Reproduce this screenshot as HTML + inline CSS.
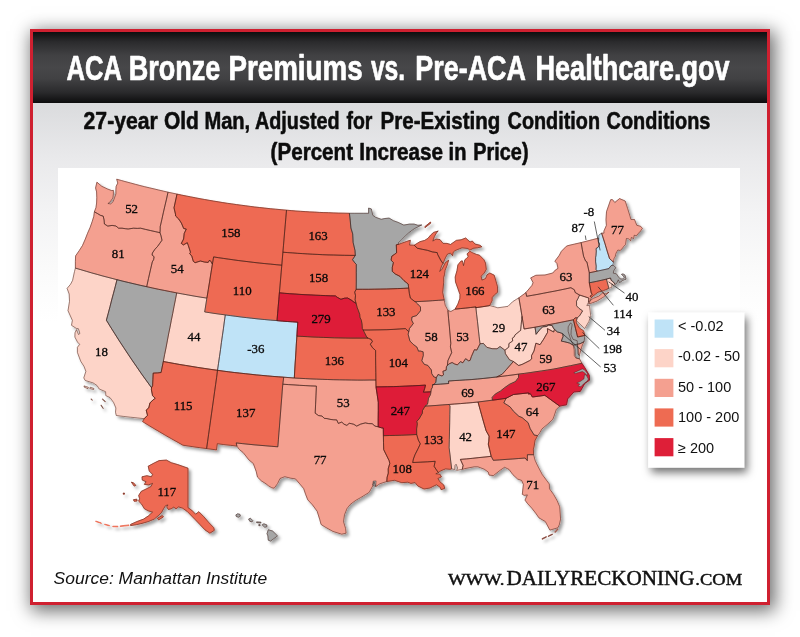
<!DOCTYPE html>
<html lang="en">
<head>
<meta charset="utf-8">
<title>ACA Bronze Premiums vs. Pre-ACA Healthcare.gov</title>
<style>
html,body{margin:0;padding:0;background:#fff;}
body{width:800px;height:637px;position:relative;overflow:hidden;font-family:"Liberation Sans",sans-serif;}
#card{position:absolute;left:30px;top:29px;width:734px;height:570px;border:3px solid #cf2030;
  background:linear-gradient(#dbdcde 0px,#dbdcde 74px,#e9e9eb 125px,#f3f3f4 180px,#fafafa 235px,#ffffff 290px);
  box-shadow:3px 4px 17px 2px rgba(0,0,0,.58);}
#hdr{position:absolute;left:0;top:0;width:734px;height:71px;
  background:linear-gradient(#0e0e0f 0%,#2b2b2d 14%,#414143 33%,#474749 50%,#414143 66%,#2a2a2c 85%,#0c0c0d 100%);}
#mapbg{position:absolute;left:25px;top:136px;width:682px;height:380px;background:#fff;}
svg{position:absolute;left:0;top:0;}
</style>
</head>
<body>
<div id="card"><div id="hdr"></div><div id="mapbg"></div></div>

<svg width="800" height="637" viewBox="0 0 800 637">
<defs><filter id="ds" x="-5%" y="-5%" width="112%" height="112%"><feDropShadow dx="2.5" dy="2.5" stdDeviation="1.7" flood-color="#000" flood-opacity=".38"/></filter><filter id="ls" x="-20%" y="-20%" width="150%" height="150%"><feDropShadow dx="3" dy="5" stdDeviation="4.5" flood-color="#000" flood-opacity=".55"/></filter></defs>
<g filter="url(#ds)">
<g stroke-linejoin="round">
<path class="st WA" fill="#f4a090" stroke="#f4a090" stroke-width="0.8" d="M94.4,211.8L96.0,207.5L96.6,203.0L96.8,197.7L96.6,191.9L95.6,188.0L96.9,182.2L101.8,186.3L107.3,188.9L111.7,190.6L113.4,190.4L113.4,193.9L112.9,198.1L109.8,202.2L107.9,203.5L110.7,203.9L113.1,201.7L114.5,197.8L115.9,193.9L115.9,189.6L116.2,186.2L117.8,183.1L116.7,179.2L121.3,180.5L126.0,181.8L130.6,183.0L135.3,184.3L139.9,185.5L144.6,186.7L149.3,187.8L154.0,188.9L158.6,190.0L163.3,191.1L168.0,192.2L166.5,199.1L164.9,205.9L163.3,212.8L161.8,219.7L160.2,226.7L160.2,229.2L160.0,232.7L155.2,231.6L150.3,230.5L145.5,229.4L140.6,228.2L137.4,228.4L133.4,228.2L128.2,229.0L125.3,228.7L122.1,228.2L118.6,228.2L115.9,226.0L112.1,225.4L107.8,226.1L104.4,224.0L104.1,220.0L103.2,216.1L100.4,215.3L97.4,213.5Z"/>
<path class="st OR" fill="#f4a090" stroke="#f4a090" stroke-width="0.8" d="M75.4,268.1L75.4,261.6L75.6,255.9L79.4,250.4L82.5,245.5L85.3,239.1L87.6,233.2L90.1,227.5L92.2,221.6L93.8,216.3L94.4,211.8L97.4,213.5L100.4,215.3L103.2,216.1L104.1,220.0L104.4,224.0L107.8,226.1L112.1,225.4L115.9,226.0L118.6,228.2L122.1,228.2L125.3,228.7L128.2,229.0L133.4,228.2L137.4,228.4L140.6,228.2L145.5,229.4L150.3,230.5L155.2,231.6L160.0,232.7L161.0,235.8L162.0,240.2L159.8,243.3L157.6,246.4L154.9,249.3L152.4,253.0L152.1,255.1L154.1,256.7L153.6,259.7L152.3,261.9L150.4,270.1L148.5,278.4L146.7,286.7L140.7,285.4L134.8,284.0L128.8,282.6L122.9,281.2L117.0,279.7L112.1,278.4L107.1,277.1L102.1,275.8L97.2,274.4L91.7,272.9L86.3,271.3L80.9,269.7Z"/>
<path class="st CA" fill="#fdd4c8" stroke="#fdd4c8" stroke-width="0.8" d="M116.3,415.5L115.5,412.2L115.9,408.0L113.6,402.5L110.0,397.6L105.8,395.6L105.6,391.7L99.2,389.0L97.1,385.6L93.1,382.9L85.2,380.5L83.8,377.9L85.9,371.3L84.0,366.4L80.7,361.2L77.4,352.4L77.4,347.3L79.7,344.3L77.5,342.1L74.9,337.1L75.0,332.8L76.5,329.6L78.5,334.5L79.9,333.5L78.4,328.7L76.3,328.4L71.5,325.3L72.4,320.4L68.0,310.7L69.5,301.4L69.2,294.0L67.1,288.4L70.6,284.2L72.6,280.4L74.5,271.5L75.4,268.1L80.9,269.7L86.3,271.3L91.7,272.9L97.2,274.4L102.1,275.8L107.1,277.1L112.1,278.4L117.0,279.7L115.3,286.4L113.5,293.2L111.7,299.9L110.0,306.7L108.2,313.5L106.4,320.2L110.6,327.1L114.9,333.9L119.2,340.7L123.6,347.4L128.1,354.2L132.6,360.9L137.3,367.7L141.9,374.4L146.7,381.0L151.5,387.7L151.4,389.8L152.6,395.7L155.2,398.3L152.9,400.0L149.9,403.0L148.8,407.8L146.2,410.1L147.5,415.3L144.2,418.7L137.2,417.9L130.3,417.2L123.3,416.4Z"/>
<path class="st NV" fill="#a6a6a6" stroke="#a6a6a6" stroke-width="0.8" d="M117.0,279.7L122.9,281.2L128.8,282.6L134.8,284.0L140.7,285.4L146.7,286.7L152.6,288.0L158.6,289.3L164.7,290.5L170.7,291.7L176.7,292.9L175.4,299.7L174.0,306.6L172.7,313.5L171.3,320.3L170.0,327.2L168.6,334.0L167.3,340.9L166.0,347.8L164.6,354.6L163.3,361.5L161.1,372.5L157.6,372.9L153.2,373.1L152.9,379.4L152.6,385.8L151.5,387.7L146.7,381.0L141.9,374.4L137.3,367.7L132.6,360.9L128.1,354.2L123.6,347.4L119.2,340.7L114.9,333.9L110.6,327.1L106.4,320.2L108.2,313.5L110.0,306.7L111.7,299.9L113.5,293.2L115.3,286.4Z"/>
<path class="st ID" fill="#f4a090" stroke="#f4a090" stroke-width="0.8" d="M168.0,192.2L177.0,194.1L175.5,201.0L174.0,207.8L175.5,214.2L175.6,216.0L178.8,219.1L181.4,223.1L183.7,228.5L186.3,229.0L184.2,233.5L183.6,239.0L181.3,243.4L183.4,244.9L187.3,242.7L188.3,245.5L190.5,252.2L189.7,253.6L191.8,256.1L193.3,261.3L195.1,262.7L200.4,261.0L204.7,262.1L208.2,262.4L209.6,260.1L210.6,261.1L212.4,264.2L211.0,272.7L209.7,281.1L208.3,289.6L206.9,298.1L200.9,297.2L194.8,296.2L188.8,295.1L182.7,294.0L176.7,292.9L170.7,291.7L164.7,290.5L158.6,289.3L152.6,288.0L146.7,286.7L148.5,278.4L150.4,270.1L152.3,261.9L153.6,259.7L154.1,256.7L152.1,255.1L152.4,253.0L154.9,249.3L157.6,246.4L159.8,243.3L162.0,240.2L161.0,235.8L160.0,232.7L160.2,229.2L160.2,226.7L161.8,219.7L163.3,212.8L164.9,205.9L166.5,199.1Z"/>
<path class="st MT" fill="#ee6b52" stroke="#ee6b52" stroke-width="0.8" d="M177.0,194.1L181.6,195.1L186.2,196.0L190.8,196.9L195.4,197.8L200.0,198.7L204.6,199.5L209.1,200.3L213.7,201.1L218.2,201.8L222.8,202.6L227.4,203.3L231.9,203.9L236.5,204.6L241.1,205.2L245.7,205.8L250.2,206.4L254.8,207.0L259.4,207.5L264.8,208.1L270.2,208.7L275.7,209.2L281.1,209.7L286.5,210.2L285.9,217.2L285.3,224.2L284.7,231.1L284.1,238.1L283.5,245.2L282.9,252.2L281.8,265.2L276.2,264.7L270.5,264.1L264.9,263.6L259.3,263.0L253.7,262.4L248.1,261.7L243.1,261.1L238.2,260.5L233.3,259.8L228.3,259.1L223.4,258.4L218.5,257.7L213.6,256.9L212.4,264.2L210.6,261.1L209.6,260.1L208.2,262.4L204.7,262.1L200.4,261.0L195.1,262.7L193.3,261.3L191.8,256.1L189.7,253.6L190.5,252.2L188.3,245.5L187.3,242.7L183.4,244.9L181.3,243.4L183.6,239.0L184.2,233.5L186.3,229.0L183.7,228.5L181.4,223.1L178.8,219.1L175.6,216.0L175.5,214.2L174.0,207.8L175.5,201.0Z"/>
<path class="st WY" fill="#ee6b52" stroke="#ee6b52" stroke-width="0.8" d="M212.4,264.2L213.6,256.9L218.5,257.7L223.4,258.4L228.3,259.1L233.3,259.8L238.2,260.5L243.1,261.1L248.1,261.7L253.7,262.4L259.3,263.0L264.9,263.6L270.5,264.1L276.2,264.7L281.8,265.2L281.2,272.1L280.6,279.0L280.0,285.9L279.4,292.8L278.8,299.8L278.2,306.7L277.6,313.7L277.0,320.6L270.7,320.1L264.3,319.5L258.0,318.9L251.6,318.2L246.4,317.6L241.1,317.0L235.8,316.3L230.5,315.6L225.3,314.9L220.1,314.2L215.0,313.5L209.8,312.7L204.7,311.9L205.8,305.0L206.9,298.1L208.3,289.6L209.7,281.1L211.0,272.7Z"/>
<path class="st UT" fill="#fdd4c8" stroke="#fdd4c8" stroke-width="0.8" d="M176.7,292.9L182.7,294.0L188.8,295.1L194.8,296.2L200.9,297.2L206.9,298.1L205.8,305.0L204.7,311.9L209.8,312.7L215.0,313.5L220.1,314.2L225.3,314.9L224.3,321.9L223.4,328.8L222.4,335.7L221.4,342.6L220.5,349.6L219.5,356.5L218.5,363.4L217.5,370.3L210.9,369.4L204.2,368.4L197.5,367.4L190.9,366.3L185.4,365.4L179.8,364.5L174.3,363.5L168.8,362.5L163.3,361.5L164.6,354.6L166.0,347.8L167.3,340.9L168.6,334.0L170.0,327.2L171.3,320.3L172.7,313.5L174.0,306.6L175.4,299.7Z"/>
<path class="st CO" fill="#bfe3f7" stroke="#bfe3f7" stroke-width="0.8" d="M225.3,314.9L230.5,315.6L235.8,316.3L241.1,317.0L246.4,317.6L251.6,318.2L258.0,318.9L264.3,319.5L270.7,320.1L277.0,320.6L282.2,321.1L287.4,321.5L292.6,321.8L297.8,322.2L297.3,329.1L296.9,336.1L296.4,343.1L296.0,350.1L295.6,357.0L295.1,364.0L294.7,371.0L294.3,378.0L283.7,377.2L278.3,376.8L272.8,376.4L267.3,375.9L261.8,375.4L256.3,374.9L250.9,374.3L245.3,373.7L239.7,373.1L234.2,372.5L228.6,371.8L223.1,371.1L217.5,370.3L218.5,363.4L219.5,356.5L220.5,349.6L221.4,342.6L222.4,335.7L223.4,328.8L224.3,321.9Z"/>
<path class="st AZ" fill="#ee6b52" stroke="#ee6b52" stroke-width="0.8" d="M163.3,361.5L168.8,362.5L174.3,363.5L179.8,364.5L185.4,365.4L190.9,366.3L197.5,367.4L204.2,368.4L210.9,369.4L217.5,370.3L216.6,377.5L215.6,384.6L214.6,391.7L213.6,398.9L212.6,406.0L211.6,413.1L210.6,420.2L209.6,427.3L208.6,434.4L207.6,441.5L206.6,448.6L200.7,447.8L194.8,447.0L188.9,446.1L182.9,445.2L177.1,441.9L171.2,438.6L165.4,435.3L159.7,431.9L153.9,428.5L148.2,425.1L142.6,421.6L144.2,418.7L147.5,415.3L146.2,410.1L148.8,407.8L149.9,403.0L152.9,400.0L155.2,398.3L152.6,395.7L151.4,389.8L151.5,387.7L152.6,385.8L152.9,379.4L153.2,373.1L157.6,372.9L161.1,372.5Z"/>
<path class="st NM" fill="#ee6b52" stroke="#ee6b52" stroke-width="0.8" d="M217.5,370.3L223.1,371.1L228.6,371.8L234.2,372.5L239.7,373.1L245.3,373.7L250.9,374.3L256.3,374.9L261.8,375.4L267.3,375.9L272.8,376.4L278.3,376.8L283.7,377.2L282.8,384.2L282.2,391.1L281.7,398.1L281.1,405.1L280.6,412.0L280.0,419.0L279.5,425.9L278.9,432.9L278.4,439.8L277.8,446.8L271.9,446.3L265.9,445.8L260.0,445.3L254.0,444.8L248.1,444.2L242.2,443.6L236.2,442.9L236.9,446.1L230.4,445.3L223.8,444.6L217.3,443.7L216.5,449.9L206.6,448.6L207.6,441.5L208.6,434.4L209.6,427.3L210.6,420.2L211.6,413.1L212.6,406.0L213.6,398.9L214.6,391.7L215.6,384.6L216.6,377.5Z"/>
<path class="st ND" fill="#ee6b52" stroke="#ee6b52" stroke-width="0.8" d="M286.5,210.2L291.2,210.6L295.9,211.0L300.5,211.3L305.2,211.6L309.9,211.9L314.6,212.1L319.2,212.4L323.8,212.6L328.4,212.7L333.1,212.9L338.5,213.1L344.0,213.2L349.4,213.3L350.2,220.1L350.9,228.0L352.7,233.9L353.1,242.4L355.0,250.5L355.3,255.4L349.9,255.4L344.4,255.3L339.0,255.2L333.5,255.0L328.1,254.9L322.6,254.7L317.2,254.4L312.3,254.2L307.4,253.9L302.5,253.6L297.6,253.3L292.7,252.9L287.8,252.6L282.9,252.2L283.5,245.2L284.1,238.1L284.7,231.1L285.3,224.2L285.9,217.2Z"/>
<path class="st SD" fill="#ee6b52" stroke="#ee6b52" stroke-width="0.8" d="M282.9,252.2L287.8,252.6L292.7,252.9L297.6,253.3L302.5,253.6L307.4,253.9L312.3,254.2L317.2,254.4L322.6,254.7L328.1,254.9L333.5,255.0L339.0,255.2L344.4,255.3L349.9,255.4L355.3,255.4L352.5,259.7L354.9,262.9L356.3,264.3L356.3,272.6L356.3,281.0L356.2,289.3L354.7,292.1L355.5,295.6L355.1,299.7L356.1,303.4L353.6,301.8L351.1,300.0L347.6,298.0L344.5,298.2L340.9,299.3L337.4,297.4L335.4,295.9L330.4,295.8L325.3,295.6L320.3,295.4L315.2,295.2L310.2,294.9L305.0,294.7L299.9,294.4L294.8,294.0L289.7,293.7L284.5,293.3L279.4,292.8L280.0,285.9L280.6,279.0L281.2,272.1L281.8,265.2Z"/>
<path class="st NE" fill="#de1f38" stroke="#de1f38" stroke-width="0.8" d="M279.4,292.8L284.5,293.3L289.7,293.7L294.8,294.0L299.9,294.4L305.0,294.7L310.2,294.9L315.2,295.2L320.3,295.4L325.3,295.6L330.4,295.8L335.4,295.9L337.4,297.4L340.9,299.3L344.5,298.2L347.6,298.0L351.1,300.0L353.6,301.8L356.1,303.4L357.1,307.4L358.2,310.2L359.7,314.4L359.9,317.2L361.4,320.5L362.0,324.2L362.3,328.6L363.1,330.0L364.4,332.5L366.8,337.4L368.0,338.1L362.4,338.1L356.8,338.1L351.2,338.1L345.5,338.0L339.9,337.9L334.3,337.8L329.0,337.6L323.6,337.4L318.3,337.2L312.9,337.0L307.6,336.7L302.2,336.4L296.9,336.1L297.3,329.1L297.8,322.2L292.6,321.8L287.4,321.5L282.2,321.1L277.0,320.6L277.6,313.7L278.2,306.7L278.8,299.8Z"/>
<path class="st KS" fill="#ee6b52" stroke="#ee6b52" stroke-width="0.8" d="M296.9,336.1L302.2,336.4L307.6,336.7L312.9,337.0L318.3,337.2L323.6,337.4L329.0,337.6L334.3,337.8L339.9,337.9L345.5,338.0L351.2,338.1L356.8,338.1L362.4,338.1L368.0,338.1L371.3,339.5L372.4,341.6L370.3,344.2L372.4,347.6L375.6,350.5L375.6,357.8L375.7,365.2L375.8,372.6L375.9,380.0L369.8,380.0L363.7,380.1L357.6,380.1L351.5,380.0L345.4,379.9L339.3,379.8L333.2,379.7L327.6,379.5L322.1,379.3L316.5,379.1L310.9,378.9L305.4,378.6L299.8,378.3L294.3,378.0L294.7,371.0L295.1,364.0L295.6,357.0L296.0,350.1L296.4,343.1Z"/>
<path class="st OK" fill="#f4a090" stroke="#f4a090" stroke-width="0.8" d="M283.7,377.2L294.3,378.0L299.8,378.3L305.4,378.6L310.9,378.9L316.5,379.1L322.1,379.3L327.6,379.5L333.2,379.7L339.3,379.8L345.4,379.9L351.5,380.0L357.6,380.1L363.7,380.1L369.8,380.0L375.9,380.0L376.0,386.9L377.2,394.6L378.3,402.3L378.3,410.5L378.2,418.7L378.2,426.8L375.0,426.1L372.2,423.7L368.7,423.6L365.3,422.9L360.7,424.1L356.7,426.1L353.8,424.3L351.5,423.7L349.2,423.3L346.9,425.4L344.0,424.2L341.8,422.1L338.3,423.4L336.7,419.9L333.8,419.8L331.0,419.5L327.0,418.6L324.2,418.3L322.0,416.0L318.6,415.6L315.2,413.2L315.6,404.2L316.0,395.1L316.4,386.1L310.8,385.9L305.2,385.6L299.6,385.3L294.0,384.9L288.4,384.6L282.8,384.2Z"/>
<path class="st TX" fill="#f4a090" stroke="#f4a090" stroke-width="0.8" d="M282.8,384.2L288.4,384.6L294.0,384.9L299.6,385.3L305.2,385.6L310.8,385.9L316.4,386.1L316.0,395.1L315.6,404.2L315.2,413.2L318.6,415.6L322.0,416.0L324.2,418.3L327.0,418.6L331.0,419.5L333.8,419.8L336.7,419.9L338.3,423.4L341.8,422.1L344.0,424.2L346.9,425.4L349.2,423.3L351.5,423.7L353.8,424.3L356.7,426.1L360.7,424.1L365.3,422.9L368.7,423.6L372.2,423.7L375.0,426.1L378.2,426.8L381.4,427.8L383.3,428.0L383.4,435.7L383.5,442.6L383.7,449.6L386.4,455.1L389.1,460.6L389.8,463.4L388.2,468.9L388.3,473.1L387.1,477.3L386.8,481.5L380.0,483.7L375.8,486.5L374.0,481.7L372.8,485.8L369.2,492.4L360.7,497.6L355.7,500.4L350.2,504.5L347.0,508.6L344.5,514.8L343.5,521.6L345.6,528.5L346.1,533.2L341.7,534.2L332.9,531.4L325.2,527.1L321.1,524.5L319.8,519.7L317.2,511.3L312.5,504.9L307.8,499.9L305.6,494.3L303.7,488.6L300.6,484.9L295.5,478.9L290.7,478.2L284.8,476.7L280.0,478.5L277.6,483.6L274.2,488.2L271.8,487.8L268.3,485.7L266.0,483.8L261.4,480.9L257.5,477.1L256.2,471.4L253.3,463.5L248.9,459.9L243.1,452.5L239.3,449.5L236.9,446.1L236.2,442.9L242.2,443.6L248.1,444.2L254.0,444.8L260.0,445.3L265.9,445.8L271.9,446.3L277.8,446.8L278.4,439.8L278.9,432.9L279.5,425.9L280.0,419.0L280.6,412.0L281.1,405.1L281.7,398.1L282.2,391.1Z"/>
<path class="st MN" fill="#a6a6a6" stroke="#a6a6a6" stroke-width="0.8" d="M349.4,213.3L354.2,213.3L359.0,213.3L363.8,213.3L368.6,213.3L368.6,208.1L371.3,208.9L372.8,215.3L375.6,217.3L381.2,219.3L384.9,218.5L389.1,218.1L393.4,220.7L398.1,222.4L403.8,225.1L409.4,224.1L414.1,224.1L417.9,225.3L421.7,225.0L414.4,228.6L408.9,232.7L405.3,236.0L401.7,239.6L398.0,243.2L399.0,244.2L396.3,244.8L396.6,252.8L394.6,254.3L391.8,256.2L391.1,260.1L393.4,262.6L392.3,267.3L392.3,271.4L395.3,274.0L399.9,276.3L404.0,280.7L408.2,284.0L408.7,288.1L403.1,288.4L397.6,288.6L392.0,288.8L386.4,289.0L380.8,289.1L374.7,289.2L368.5,289.3L362.4,289.3L356.2,289.3L356.3,281.0L356.3,272.6L356.3,264.3L354.9,262.9L352.5,259.7L355.3,255.4L355.0,250.5L353.1,242.4L352.7,233.9L350.9,228.0L350.2,220.1Z"/>
<path class="st IA" fill="#ee6b52" stroke="#ee6b52" stroke-width="0.8" d="M356.2,289.3L362.4,289.3L368.5,289.3L374.7,289.2L380.8,289.1L386.4,289.0L392.0,288.8L397.6,288.6L403.1,288.4L408.7,288.1L409.4,293.7L410.4,298.1L415.1,301.8L415.3,301.7L417.7,304.0L420.5,307.0L420.5,310.7L419.2,312.4L416.5,315.6L411.9,317.0L411.6,320.1L413.3,323.5L411.8,325.5L409.4,328.6L408.8,331.7L405.4,328.6L399.2,329.0L393.1,329.4L386.9,329.7L381.0,329.8L375.0,329.9L369.1,330.0L363.1,330.0L362.3,328.6L362.0,324.2L361.4,320.5L359.9,317.2L359.7,314.4L358.2,310.2L357.1,307.4L356.1,303.4L355.1,299.7L355.5,295.6L354.7,292.1Z"/>
<path class="st MO" fill="#ee6b52" stroke="#ee6b52" stroke-width="0.8" d="M363.1,330.0L369.1,330.0L375.0,329.9L381.0,329.8L386.9,329.7L393.1,329.4L399.2,329.0L405.4,328.6L408.8,331.7L408.1,334.2L409.1,338.0L409.9,341.0L413.4,344.5L416.9,347.1L418.5,351.2L420.1,351.0L423.1,351.8L423.3,355.4L421.8,360.8L424.4,364.4L427.8,365.4L431.4,370.0L431.7,373.5L433.8,376.9L436.3,377.7L435.8,382.3L433.8,384.6L432.6,384.7L432.3,387.5L431.3,389.1L430.9,391.8L423.4,392.2L424.6,388.7L425.5,385.1L419.0,385.5L412.5,385.8L406.0,386.1L399.5,386.4L393.6,386.6L387.7,386.7L381.9,386.8L376.0,386.9L375.9,380.0L375.8,372.6L375.7,365.2L375.6,357.8L375.6,350.5L372.4,347.6L370.3,344.2L372.4,341.6L371.3,339.5L368.0,338.1L366.8,337.4L364.4,332.5Z"/>
<path class="st AR" fill="#de1f38" stroke="#de1f38" stroke-width="0.8" d="M376.0,386.9L381.9,386.8L387.7,386.7L393.6,386.6L399.5,386.4L406.0,386.1L412.5,385.8L419.0,385.5L425.5,385.1L424.6,388.7L423.4,392.2L430.9,391.8L430.5,394.6L428.5,398.2L427.5,404.2L425.1,406.1L422.5,410.5L422.3,413.3L419.0,419.0L416.8,421.3L417.3,424.0L416.6,428.9L416.7,434.5L409.0,434.9L401.3,435.2L395.3,435.4L389.4,435.5L383.4,435.7L383.3,428.0L381.4,427.8L378.2,426.8L378.2,418.7L378.3,410.5L378.3,402.3L377.2,394.6Z"/>
<path class="st LA" fill="#ee6b52" stroke="#ee6b52" stroke-width="0.8" d="M383.4,435.7L389.4,435.5L395.3,435.4L401.3,435.2L409.0,434.9L416.7,434.5L418.3,440.0L420.3,443.8L418.2,448.4L415.0,454.7L413.4,459.0L412.7,462.5L420.2,462.2L427.7,461.8L435.2,461.3L434.1,466.3L436.7,470.3L438.4,472.5L435.8,473.8L440.0,474.2L441.4,476.9L437.9,478.5L439.9,481.8L443.8,485.0L444.7,488.4L441.1,489.7L440.3,487.4L436.5,484.8L432.9,486.5L430.0,488.0L424.0,489.0L417.7,485.9L415.1,482.6L410.9,483.4L407.8,482.2L401.8,482.7L394.5,480.3L386.8,481.5L387.1,477.3L388.3,473.1L388.2,468.9L389.8,463.4L389.1,460.6L386.4,455.1L383.7,449.6L383.5,442.6Z"/>
<path class="st MS" fill="#ee6b52" stroke="#ee6b52" stroke-width="0.8" d="M425.1,406.1L431.0,405.8L436.9,405.4L442.8,404.9L448.7,404.5L450.0,405.9L449.8,414.3L449.7,422.7L449.5,431.1L449.3,439.4L449.1,447.8L450.0,454.8L450.8,461.9L451.7,468.9L449.9,469.3L445.6,468.9L441.0,470.7L438.4,472.5L436.7,470.3L434.1,466.3L435.2,461.3L427.7,461.8L420.2,462.2L412.7,462.5L413.4,459.0L415.0,454.7L418.2,448.4L420.3,443.8L418.3,440.0L416.7,434.5L416.6,428.9L417.3,424.0L416.8,421.3L419.0,419.0L422.3,413.3L422.5,410.5Z"/>
<path class="st AL" fill="#fdd4c8" stroke="#fdd4c8" stroke-width="0.8" d="M448.7,404.5L454.6,404.0L460.5,403.6L466.3,403.1L472.2,402.6L478.0,402.0L480.0,409.2L482.0,416.4L484.0,423.5L486.1,430.7L489.1,436.1L488.8,441.2L488.3,444.1L489.6,449.5L491.2,456.3L485.0,457.0L478.9,457.6L472.7,458.3L466.6,458.9L460.4,459.4L463.1,465.4L462.3,469.3L456.6,470.4L457.6,468.0L456.1,464.2L455.0,465.4L454.7,469.6L451.7,468.9L450.8,461.9L450.0,454.8L449.1,447.8L449.3,439.4L449.5,431.1L449.7,422.7L449.8,414.3L450.0,405.9Z"/>
<path class="st GA" fill="#ee6b52" stroke="#ee6b52" stroke-width="0.8" d="M478.0,402.0L485.2,401.1L492.4,400.2L499.2,399.3L506.0,398.3L503.8,402.9L507.5,405.2L510.1,406.9L513.6,411.4L518.9,416.3L522.1,417.6L528.1,422.7L530.2,428.7L534.2,435.1L537.6,435.6L535.0,440.6L534.1,446.4L533.4,449.3L533.6,454.7L527.4,454.7L527.3,460.6L525.1,458.0L518.7,458.5L512.4,459.0L506.0,459.4L499.7,459.9L493.3,460.3L491.2,456.3L489.6,449.5L488.3,444.1L488.8,441.2L489.1,436.1L486.1,430.7L484.0,423.5L482.0,416.4L480.0,409.2Z"/>
<path class="st FL" fill="#f4a090" stroke="#f4a090" stroke-width="0.8" d="M462.3,469.3L463.1,465.4L460.4,459.4L466.6,458.9L472.7,458.3L478.9,457.6L485.0,457.0L491.2,456.3L493.3,460.3L499.7,459.9L506.0,459.4L512.4,459.0L518.7,458.5L525.1,458.0L527.3,460.6L527.4,454.7L533.6,454.7L535.1,460.3L537.5,465.5L542.3,474.6L549.3,484.0L549.5,488.8L553.6,494.4L557.2,500.8L559.7,506.7L560.6,519.1L559.3,524.8L557.9,527.8L549.9,530.1L545.3,521.5L539.0,517.9L535.7,513.2L531.8,508.2L527.3,503.3L525.0,500.1L527.4,494.9L524.3,495.4L522.3,494.3L523.4,484.4L521.6,480.4L517.7,479.1L512.8,474.6L509.1,469.5L504.6,467.3L500.7,469.9L493.4,475.6L489.1,475.1L488.2,472.0L484.2,469.2L477.9,466.8L474.3,466.8L466.0,468.4Z"/>
<path class="st SC" fill="#f4a090" stroke="#f4a090" stroke-width="0.8" d="M506.0,398.3L513.5,394.5L521.0,393.7L528.6,392.9L528.8,394.3L530.1,393.4L532.4,397.0L538.6,396.2L544.8,395.3L552.2,400.7L559.7,406.1L556.3,409.5L554.0,416.3L552.8,419.4L547.2,424.6L542.0,428.9L539.3,433.6L537.6,435.6L534.2,435.1L530.2,428.7L528.1,422.7L522.1,417.6L518.9,416.3L513.6,411.4L510.1,406.9L507.5,405.2L503.8,402.9Z"/>
<path class="st NC" fill="#de1f38" stroke="#de1f38" stroke-width="0.8" d="M581.9,363.3L576.2,364.5L570.5,365.7L564.8,366.8L559.1,368.0L553.4,369.1L547.6,370.0L541.8,370.9L536.0,371.7L530.2,372.6L524.4,373.4L518.6,374.1L518.5,377.5L515.5,381.5L509.7,384.2L504.6,387.7L500.5,391.0L495.2,394.1L492.2,397.3L492.4,400.2L499.2,399.3L506.0,398.3L513.5,394.5L521.0,393.7L528.6,392.9L528.8,394.3L530.1,393.4L532.4,397.0L538.6,396.2L544.8,395.3L552.2,400.7L559.7,406.1L566.5,404.8L567.7,398.9L573.9,392.0L580.3,391.4L584.8,383.4L589.5,380.2L589.3,375.3L584.8,367.7Z"/>
<path class="st TN" fill="#f4a090" stroke="#f4a090" stroke-width="0.8" d="M432.6,384.7L440.7,384.1L448.7,383.5L448.5,381.0L454.1,380.6L459.8,380.3L465.4,379.9L471.1,379.6L477.5,379.0L483.9,378.4L490.2,377.7L496.6,377.0L502.1,376.3L507.6,375.6L513.1,374.9L518.6,374.1L518.5,377.5L515.5,381.5L509.7,384.2L504.6,387.7L500.5,391.0L495.2,394.1L492.2,397.3L492.4,400.2L485.2,401.1L478.0,402.0L472.2,402.6L466.3,403.1L460.5,403.6L454.6,404.0L448.7,404.5L442.8,404.9L436.9,405.4L431.0,405.8L425.1,406.1L427.5,404.2L428.5,398.2L430.5,394.6L430.9,391.8L431.3,389.1L432.3,387.5Z"/>
<path class="st KY" fill="#a6a6a6" stroke="#a6a6a6" stroke-width="0.8" d="M436.3,377.7L438.0,374.5L442.0,376.0L443.5,374.8L442.9,371.3L446.2,370.1L446.4,366.8L447.4,365.3L449.2,363.8L452.1,362.5L454.7,364.0L457.4,364.9L460.5,361.6L462.8,362.8L465.6,358.7L468.6,360.8L470.1,360.4L471.4,356.5L474.4,349.7L476.8,350.1L480.0,343.8L483.4,343.4L486.8,347.3L492.1,348.7L497.0,348.8L500.0,346.5L504.9,350.2L505.4,353.7L509.5,359.8L513.4,361.5L506.5,369.4L502.2,374.2L496.6,377.0L490.2,377.7L483.9,378.4L477.5,379.0L471.1,379.6L465.4,379.9L459.8,380.3L454.1,380.6L448.5,381.0L448.7,383.5L440.7,384.1L432.6,384.7L433.8,384.6L435.8,382.3Z"/>
<path class="st WI" fill="#ee6b52" stroke="#ee6b52" stroke-width="0.8" d="M399.0,244.2L406.5,241.5L410.3,240.2L409.6,245.1L414.2,245.2L417.3,248.2L422.3,249.3L427.4,250.3L432.3,251.9L437.2,252.6L437.6,254.3L440.7,260.2L443.0,263.5L441.7,265.7L439.7,271.5L442.0,269.2L445.4,262.6L448.6,260.2L447.1,265.3L445.1,270.3L444.5,274.6L443.7,277.4L443.7,282.3L442.7,292.4L444.2,299.9L438.4,300.3L432.6,300.7L426.9,301.1L421.1,301.4L415.3,301.7L415.1,301.8L410.4,298.1L409.4,293.7L408.7,288.1L408.2,284.0L404.0,280.7L399.9,276.3L395.3,274.0L392.3,271.4L392.3,267.3L393.4,262.6L391.1,260.1L391.8,256.2L394.6,254.3L396.6,252.8L396.3,244.8Z"/>
<path class="st IL" fill="#f4a090" stroke="#f4a090" stroke-width="0.8" d="M415.3,301.7L421.1,301.4L426.9,301.1L432.6,300.7L438.4,300.3L444.2,299.9L445.2,305.2L447.0,308.6L448.0,310.6L447.9,310.6L448.6,318.8L449.4,326.9L450.1,335.1L450.8,343.3L450.4,346.8L451.7,352.6L449.7,356.7L447.9,360.7L447.4,365.3L446.4,366.8L446.2,370.1L442.9,371.3L443.5,374.8L442.0,376.0L438.0,374.5L436.3,377.7L433.8,376.9L431.7,373.5L431.4,370.0L427.8,365.4L424.4,364.4L421.8,360.8L423.3,355.4L423.1,351.8L420.1,351.0L418.5,351.2L416.9,347.1L413.4,344.5L409.9,341.0L409.1,338.0L408.1,334.2L408.8,331.7L409.4,328.6L411.8,325.5L413.3,323.5L411.6,320.1L411.9,317.0L416.5,315.6L419.2,312.4L420.5,310.7L420.5,307.0L417.7,304.0Z"/>
<path class="st IN" fill="#f4a090" stroke="#f4a090" stroke-width="0.8" d="M448.0,310.6L450.9,311.5L455.1,309.1L460.3,308.6L465.5,308.1L470.6,307.5L475.8,306.9L476.6,314.3L477.5,321.7L478.3,329.1L479.1,336.4L480.0,343.8L476.8,350.1L474.4,349.7L471.4,356.5L470.1,360.4L468.6,360.8L465.6,358.7L462.8,362.8L460.5,361.6L457.4,364.9L454.7,364.0L452.1,362.5L449.2,363.8L447.4,365.3L447.9,360.7L449.7,356.7L451.7,352.6L450.4,346.8L450.8,343.3L450.1,335.1L449.4,326.9L448.6,318.8L447.9,310.6Z"/>
<path class="st OH" fill="#fdd4c8" stroke="#fdd4c8" stroke-width="0.8" d="M475.8,306.9L475.9,307.7L482.8,306.7L489.7,305.6L494.5,306.8L497.8,307.8L504.9,306.8L508.0,306.3L512.5,301.8L516.3,299.4L518.9,297.8L520.5,307.1L522.0,316.3L521.7,319.7L521.2,324.5L520.6,330.5L519.3,331.4L515.0,334.9L514.2,336.9L512.3,338.2L512.7,340.9L508.9,343.6L508.8,347.1L504.9,350.2L500.0,346.5L497.0,348.8L492.1,348.7L486.8,347.3L483.4,343.4L480.0,343.8L479.1,336.4L478.3,329.1L477.5,321.7L476.6,314.3Z"/>
<path class="st MI" fill="#ee6b52" stroke="#ee6b52" stroke-width="0.8" d="M455.1,309.1L457.9,304.1L459.9,298.3L460.0,294.5L457.8,288.2L455.5,281.9L455.2,277.0L457.0,270.6L457.9,264.9L461.0,261.1L462.4,260.9L463.5,265.7L464.8,260.0L467.0,257.7L468.3,256.5L467.0,253.9L469.9,251.3L472.6,252.8L476.4,254.4L479.5,255.2L484.0,259.8L485.5,263.1L486.3,269.3L484.3,273.0L481.2,276.2L481.9,280.1L485.5,278.5L487.0,274.8L489.8,273.0L494.2,275.2L496.0,281.3L497.5,286.7L497.6,292.3L494.4,294.9L492.2,297.6L492.1,300.8L489.7,305.6L482.8,306.7L475.9,307.7L475.8,306.9L470.6,307.5L465.5,308.1L460.3,308.6ZM443.0,263.5L445.4,257.8L447.5,254.1L450.4,253.1L452.6,255.7L453.2,252.2L455.0,250.6L462.0,247.8L467.9,248.5L469.8,250.1L473.7,248.2L477.5,247.8L481.8,246.8L480.1,245.3L475.1,244.1L472.3,241.0L470.0,242.0L465.7,238.0L461.1,239.8L456.3,240.4L450.5,244.5L447.0,243.4L443.1,243.4L439.9,239.5L436.0,239.1L432.8,241.1L434.4,236.5L436.9,232.2L438.2,231.1L433.6,232.4L430.5,235.2L427.9,238.4L424.7,240.4L420.0,241.7L414.2,245.2L417.3,248.2L422.3,249.3L427.4,250.3L432.3,251.9L437.2,252.6L437.6,254.3L440.7,260.2ZM424.6,226.9L430.4,222.1L430.9,223.0L425.2,227.5Z"/>
<path class="st WV" fill="#fdd4c8" stroke="#fdd4c8" stroke-width="0.8" d="M504.9,350.2L508.8,347.1L508.9,343.6L512.7,340.9L512.3,338.2L514.2,336.9L515.0,334.9L519.3,331.4L520.6,330.5L521.2,324.5L521.7,319.7L522.0,316.3L524.1,329.0L529.5,328.1L535.0,327.2L536.1,334.3L539.6,329.9L542.7,326.8L546.5,326.5L548.6,325.0L552.3,325.7L553.3,328.0L554.4,329.3L553.7,332.0L547.4,328.6L547.6,332.3L543.7,339.1L540.0,344.7L535.9,343.2L534.0,351.0L531.5,355.7L531.7,358.8L529.8,360.5L525.9,362.5L522.1,364.4L518.7,365.5L513.4,361.5L509.5,359.8L505.4,353.7Z"/>
<path class="st VA" fill="#f4a090" stroke="#f4a090" stroke-width="0.8" d="M513.4,361.5L518.7,365.5L522.1,364.4L525.9,362.5L529.8,360.5L531.7,358.8L531.5,355.7L534.0,351.0L535.9,343.2L540.0,344.7L543.7,339.1L547.6,332.3L547.4,328.6L553.7,332.0L554.4,329.3L557.3,331.9L560.2,332.7L562.7,333.7L563.1,336.4L561.3,341.1L564.8,341.8L569.4,343.0L573.2,345.1L574.2,349.9L574.3,355.6L575.9,358.1L579.5,358.8L581.9,363.3L576.2,364.5L570.5,365.7L564.8,366.8L559.1,368.0L553.4,369.1L547.6,370.0L541.8,370.9L536.0,371.7L530.2,372.6L524.4,373.4L518.6,374.1L513.1,374.9L507.6,375.6L502.1,376.3L496.6,377.0L502.2,374.2L506.5,369.4ZM577.4,344.2L578.1,349.8L578.2,354.1L579.3,355.5L580.9,349.9L582.5,344.6L584.1,341.6L580.1,343.7Z"/>
<path class="st MD" fill="#a6a6a6" stroke="#a6a6a6" stroke-width="0.8" d="M535.0,327.2L541.9,325.9L548.7,324.7L555.6,323.4L561.5,322.2L567.4,321.0L573.4,319.8L575.5,328.4L577.6,337.0L584.9,335.4L584.1,341.6L580.1,343.7L577.4,344.2L573.2,345.1L569.4,343.0L564.8,341.8L561.3,341.1L563.1,336.4L562.7,333.7L560.2,332.7L557.3,331.9L554.4,329.3L553.3,328.0L552.3,325.7L548.6,325.0L546.5,326.5L542.7,326.8L539.6,329.9L536.1,334.3Z"/>
<path class="st DE" fill="#ee6b52" stroke="#ee6b52" stroke-width="0.8" d="M573.4,319.8L575.0,317.9L577.2,317.8L576.2,320.9L576.3,323.0L579.4,328.1L583.5,330.7L584.9,335.4L577.6,337.0L575.5,328.4Z"/>
<path class="st PA" fill="#f4a090" stroke="#f4a090" stroke-width="0.8" d="M525.9,292.6L526.6,296.3L532.3,295.3L538.0,294.3L543.7,293.2L549.4,292.1L554.8,291.1L560.2,290.0L565.5,288.9L570.9,287.7L574.4,289.8L575.2,292.5L579.5,295.0L578.1,298.3L576.5,301.2L576.6,305.8L578.8,308.2L582.6,310.9L579.6,315.8L577.2,317.8L575.0,317.9L573.4,319.8L567.4,321.0L561.5,322.2L555.6,323.4L548.7,324.7L541.9,325.9L535.0,327.2L529.5,328.1L524.1,329.0L522.0,316.3L520.5,307.1L518.9,297.8L523.0,294.8Z"/>
<path class="st NJ" fill="#fdd4c8" stroke="#fdd4c8" stroke-width="0.8" d="M579.5,295.0L588.8,298.0L588.4,302.4L586.8,305.6L589.5,305.5L590.1,310.6L590.7,315.5L588.9,321.5L584.7,328.6L580.9,324.9L576.5,320.8L577.2,317.8L579.6,315.8L582.6,310.9L578.8,308.2L576.6,305.8L576.5,301.2L578.1,298.3Z"/>
<path class="st NY" fill="#f4a090" stroke="#f4a090" stroke-width="0.8" d="M525.9,292.6L531.9,285.5L533.1,282.7L530.7,277.9L535.8,275.3L545.0,275.0L552.8,273.0L555.3,270.1L558.0,268.4L557.0,263.6L554.9,261.2L559.3,255.3L561.4,251.3L566.3,246.3L568.0,245.6L574.5,244.1L581.1,242.6L582.3,249.4L583.6,256.3L585.6,261.1L586.9,261.9L589.3,272.8L589.3,282.8L591.3,293.1L592.3,294.2L590.2,296.3L591.3,297.4L590.4,300.2L589.1,301.5L588.7,302.3L588.8,298.0L579.5,295.0L575.2,292.5L574.4,289.8L570.9,287.7L565.5,288.9L560.2,290.0L554.8,291.1L549.4,292.1L543.7,293.2L538.0,294.3L532.3,295.3L526.6,296.3ZM588.7,303.8L591.6,303.1L597.0,301.1L603.5,297.1L609.0,292.1L604.9,294.1L603.4,292.3L599.0,296.0L593.1,298.4L590.4,300.5L588.7,303.8Z"/>
<path class="st CT" fill="#ee6b52" stroke="#ee6b52" stroke-width="0.8" d="M589.3,282.8L596.4,281.4L601.4,280.3L606.4,279.1L608.6,287.4L608.2,288.7L603.5,290.6L598.0,292.2L595.3,294.3L591.3,297.4L590.2,296.3L592.3,294.2L591.3,293.1Z"/>
<path class="st RI" fill="#fdd4c8" stroke="#fdd4c8" stroke-width="0.8" d="M606.4,279.1L610.5,278.0L611.2,280.3L613.6,282.2L615.0,284.3L613.4,285.5L611.9,283.7L611.9,287.2L608.2,288.7L608.6,287.4Z"/>
<path class="st MA" fill="#a6a6a6" stroke="#a6a6a6" stroke-width="0.8" d="M589.3,272.8L597.4,271.1L603.1,269.9L608.9,268.6L609.2,268.0L611.2,265.6L613.0,265.1L615.9,267.5L613.7,270.9L613.3,273.2L616.4,273.8L618.5,276.9L620.2,278.9L622.3,279.0L624.5,277.4L621.5,274.3L623.0,273.9L625.0,275.1L626.1,279.2L622.7,280.4L619.6,282.7L618.3,279.8L616.6,283.6L615.0,284.3L613.6,282.2L611.2,280.3L610.5,278.0L606.4,279.1L601.4,280.3L596.4,281.4L589.3,282.8Z"/>
<path class="st VT" fill="#f4a090" stroke="#f4a090" stroke-width="0.8" d="M581.1,242.6L587.0,241.1L592.8,239.6L598.7,238.1L598.5,241.9L599.6,244.1L598.2,247.2L596.0,248.6L596.3,251.0L596.0,255.4L595.6,257.6L595.6,261.9L596.2,266.1L596.0,269.5L597.4,271.1L589.3,272.8L586.9,261.9L585.6,261.1L583.6,256.3L582.3,249.4Z"/>
<path class="st NH" fill="#bfe3f7" stroke="#bfe3f7" stroke-width="0.8" d="M598.7,238.1L598.9,235.0L601.6,233.1L605.0,243.7L607.2,251.1L609.5,258.4L611.8,260.7L613.4,262.1L613.0,265.1L611.2,265.6L609.2,268.0L608.9,268.6L603.1,269.9L597.4,271.1L596.0,269.5L596.2,266.1L595.6,261.9L595.6,257.6L596.0,255.4L596.3,251.0L596.0,248.6L598.2,247.2L599.6,244.1L598.5,241.9Z"/>
<path class="st ME" fill="#f4a090" stroke="#f4a090" stroke-width="0.8" d="M601.6,233.1L604.0,233.2L603.9,231.1L606.4,225.4L606.0,219.8L606.5,211.7L610.7,199.7L612.4,199.6L614.8,202.5L619.5,198.6L625.2,201.0L627.7,208.7L630.1,216.5L630.9,219.4L634.5,219.5L636.8,225.3L640.7,226.3L642.4,228.4L639.9,232.0L637.9,233.7L636.5,236.0L634.2,235.2L633.7,238.6L631.3,237.5L630.7,240.9L628.6,238.9L626.4,238.5L625.9,242.0L625.6,244.5L623.6,246.6L622.2,248.7L620.1,250.5L617.9,250.0L616.1,253.0L615.1,256.9L614.0,258.6L613.4,262.1L611.8,260.7L609.5,258.4L607.2,251.1L605.0,243.7Z"/>
<path fill="#ee6b52" stroke="#ee6b52" stroke-width="0.8" d="M148.2,466.2L154.2,463.0L159.1,460.6L166.4,460.1L171.2,462.7L177.7,464.6L188.0,468.2L188.0,507.7L191.6,510.1L195.6,514.2L198.9,511.7L203.7,516.6L208.6,522.3L213.8,527.7L214.3,530.4L209.9,533.2L205.0,529.9L199.8,524.4L195.1,519.5L190.7,515.0L187.2,511.4L182.6,508.2L178.6,506.9L176.1,508.8L173.7,507.2L171.2,508.8L168.3,509.5L166.7,506.9L168.0,504.9L165.6,505.6L163.9,508.2L161.5,512.6L158.2,515.8L154.2,519.1L148.5,521.5L142.0,523.4L136.3,524.7L130.6,525.6L130.6,524.4L137.1,521.5L143.6,519.1L148.5,515.8L152.6,512.1L148.5,510.9L144.4,508.8L142.8,506.1L141.2,503.6L138.7,501.2L139.6,498.7L138.7,495.5L141.2,491.4L146.1,489.0L150.9,486.6L152.6,483.3L148.5,484.9L144.4,484.4L146.1,481.7L142.3,480.1L142.0,476.8L146.9,475.7L151.4,476.8L152.6,474.4L149.3,471.1ZM131.4,482.2L133.5,482.8L135.8,485.4L134.2,486.1ZM133.5,499.7L136.8,499.2L137.1,501.0L134.2,501.3ZM123.3,493.1L124.4,493.1L124.4,494.2L123.3,494.2ZM157.4,518.2L162.3,515.5L163.4,516.9L158.6,519.9ZM120.1,525.9L129.0,524.9L129.0,525.6L120.2,526.5ZM112.7,526.2L117.9,526.2L117.9,526.9L112.7,526.7ZM104.6,524.1L109.5,525.4L109.5,525.9L104.6,524.6ZM95.7,521.0L101.4,523.0L101.4,523.4L95.7,521.5Z"/><path fill="#a6a6a6" stroke="#a6a6a6" stroke-width="0.8" d="M235.9,514.9L237.7,513.8L240.0,514.4L240.3,516.2L238.6,517.2L236.4,516.6ZM248.6,519.1L250.4,518.2L252.8,520.6L252.1,521.9L249.9,521.4ZM256.5,521.9L260.9,522.2L260.9,523.0L256.7,522.7ZM258.7,524.7L260.0,524.5L260.2,525.6L258.9,525.7ZM262.2,524.9L263.9,523.8L266.8,524.9L267.0,526.7L264.8,527.3L263.5,526.2ZM268.3,529.7L272.7,531.1L277.5,535.9L274.0,538.5L270.5,541.1L268.3,540.2L267.9,535.9L267.0,533.7Z"/>
<path fill="#fdd4c8" stroke="#fdd4c8" stroke-width="0.8" d="M84.0,385.9L88.4,387.3L88.0,388.7L84.3,387.2ZM90.2,387.2L94.0,388.5L93.7,389.6L89.8,388.6ZM102.6,398.8L105.4,401.3L105.2,402.0L102.4,399.6ZM101.2,404.9L103.3,408.4L103.2,408.7L101.0,405.5ZM91.0,398.8L92.6,400.1L92.2,400.2L90.9,399.3Z"/><path fill="#f4a090" stroke="#f4a090" stroke-width="0.8" d="M558.1,529.2L555.4,532.4L554.7,532.1L557.4,528.9ZM552.5,534.5L548.3,536.5L548.2,536.0L552.4,534.0ZM546.4,537.2L542.2,539.3L542.1,538.6L546.3,536.6Z"/>
</g></g>
<path fill="#a6a6a6" stroke="#3a1a14" stroke-width="0.4" d="M573.7,345.0L577.4,344.2L578.1,349.8L578.2,354.1L579.3,355.5L579.5,358.8L576.5,358.0L575.4,355.4L575.3,349.7ZM375.8,486.5L376.1,480.9L373.3,481.0L372.5,485.1ZM573.8,372.7L577.9,370.9L582.3,368.9L584.5,369.8L587.5,373.6L587.0,375.5L584.5,372.7L582.3,371.5L578.5,372.6L575.2,373.4ZM576.8,383.0L580.1,381.6L584.0,378.8L584.5,374.7L586.2,375.1L588.4,379.1L587.3,381.0L583.4,384.1L580.9,386.8L577.9,386.0L579.8,384.1Z"/>
<g fill="none" stroke="#3a1a14" stroke-width="0.5" stroke-linejoin="round">
<path d="M94.4,211.8L96.0,207.5L96.6,203.0L96.8,197.7L96.6,191.9L95.6,188.0L96.9,182.2L101.8,186.3L107.3,188.9L111.7,190.6L113.4,190.4L113.4,193.9L112.9,198.1L109.8,202.2L107.9,203.5L110.7,203.9L113.1,201.7L114.5,197.8L115.9,193.9L115.9,189.6L116.2,186.2L117.8,183.1L116.7,179.2L121.3,180.5L126.0,181.8L130.6,183.0L135.3,184.3L139.9,185.5L144.6,186.7L149.3,187.8L154.0,188.9L158.6,190.0L163.3,191.1L168.0,192.2L166.5,199.1L164.9,205.9L163.3,212.8L161.8,219.7L160.2,226.7L160.2,229.2L160.0,232.7L155.2,231.6L150.3,230.5L145.5,229.4L140.6,228.2L137.4,228.4L133.4,228.2L128.2,229.0L125.3,228.7L122.1,228.2L118.6,228.2L115.9,226.0L112.1,225.4L107.8,226.1L104.4,224.0L104.1,220.0L103.2,216.1L100.4,215.3L97.4,213.5Z"/>
<path d="M75.4,268.1L75.4,261.6L75.6,255.9L79.4,250.4L82.5,245.5L85.3,239.1L87.6,233.2L90.1,227.5L92.2,221.6L93.8,216.3L94.4,211.8L97.4,213.5L100.4,215.3L103.2,216.1L104.1,220.0L104.4,224.0L107.8,226.1L112.1,225.4L115.9,226.0L118.6,228.2L122.1,228.2L125.3,228.7L128.2,229.0L133.4,228.2L137.4,228.4L140.6,228.2L145.5,229.4L150.3,230.5L155.2,231.6L160.0,232.7L161.0,235.8L162.0,240.2L159.8,243.3L157.6,246.4L154.9,249.3L152.4,253.0L152.1,255.1L154.1,256.7L153.6,259.7L152.3,261.9L150.4,270.1L148.5,278.4L146.7,286.7L140.7,285.4L134.8,284.0L128.8,282.6L122.9,281.2L117.0,279.7L112.1,278.4L107.1,277.1L102.1,275.8L97.2,274.4L91.7,272.9L86.3,271.3L80.9,269.7Z"/>
<path d="M116.3,415.5L115.5,412.2L115.9,408.0L113.6,402.5L110.0,397.6L105.8,395.6L105.6,391.7L99.2,389.0L97.1,385.6L93.1,382.9L85.2,380.5L83.8,377.9L85.9,371.3L84.0,366.4L80.7,361.2L77.4,352.4L77.4,347.3L79.7,344.3L77.5,342.1L74.9,337.1L75.0,332.8L76.5,329.6L78.5,334.5L79.9,333.5L78.4,328.7L76.3,328.4L71.5,325.3L72.4,320.4L68.0,310.7L69.5,301.4L69.2,294.0L67.1,288.4L70.6,284.2L72.6,280.4L74.5,271.5L75.4,268.1L80.9,269.7L86.3,271.3L91.7,272.9L97.2,274.4L102.1,275.8L107.1,277.1L112.1,278.4L117.0,279.7L115.3,286.4L113.5,293.2L111.7,299.9L110.0,306.7L108.2,313.5L106.4,320.2L110.6,327.1L114.9,333.9L119.2,340.7L123.6,347.4L128.1,354.2L132.6,360.9L137.3,367.7L141.9,374.4L146.7,381.0L151.5,387.7L151.4,389.8L152.6,395.7L155.2,398.3L152.9,400.0L149.9,403.0L148.8,407.8L146.2,410.1L147.5,415.3L144.2,418.7L137.2,417.9L130.3,417.2L123.3,416.4Z"/>
<path d="M117.0,279.7L122.9,281.2L128.8,282.6L134.8,284.0L140.7,285.4L146.7,286.7L152.6,288.0L158.6,289.3L164.7,290.5L170.7,291.7L176.7,292.9L175.4,299.7L174.0,306.6L172.7,313.5L171.3,320.3L170.0,327.2L168.6,334.0L167.3,340.9L166.0,347.8L164.6,354.6L163.3,361.5L161.1,372.5L157.6,372.9L153.2,373.1L152.9,379.4L152.6,385.8L151.5,387.7L146.7,381.0L141.9,374.4L137.3,367.7L132.6,360.9L128.1,354.2L123.6,347.4L119.2,340.7L114.9,333.9L110.6,327.1L106.4,320.2L108.2,313.5L110.0,306.7L111.7,299.9L113.5,293.2L115.3,286.4Z"/>
<path d="M168.0,192.2L177.0,194.1L175.5,201.0L174.0,207.8L175.5,214.2L175.6,216.0L178.8,219.1L181.4,223.1L183.7,228.5L186.3,229.0L184.2,233.5L183.6,239.0L181.3,243.4L183.4,244.9L187.3,242.7L188.3,245.5L190.5,252.2L189.7,253.6L191.8,256.1L193.3,261.3L195.1,262.7L200.4,261.0L204.7,262.1L208.2,262.4L209.6,260.1L210.6,261.1L212.4,264.2L211.0,272.7L209.7,281.1L208.3,289.6L206.9,298.1L200.9,297.2L194.8,296.2L188.8,295.1L182.7,294.0L176.7,292.9L170.7,291.7L164.7,290.5L158.6,289.3L152.6,288.0L146.7,286.7L148.5,278.4L150.4,270.1L152.3,261.9L153.6,259.7L154.1,256.7L152.1,255.1L152.4,253.0L154.9,249.3L157.6,246.4L159.8,243.3L162.0,240.2L161.0,235.8L160.0,232.7L160.2,229.2L160.2,226.7L161.8,219.7L163.3,212.8L164.9,205.9L166.5,199.1Z"/>
<path d="M177.0,194.1L181.6,195.1L186.2,196.0L190.8,196.9L195.4,197.8L200.0,198.7L204.6,199.5L209.1,200.3L213.7,201.1L218.2,201.8L222.8,202.6L227.4,203.3L231.9,203.9L236.5,204.6L241.1,205.2L245.7,205.8L250.2,206.4L254.8,207.0L259.4,207.5L264.8,208.1L270.2,208.7L275.7,209.2L281.1,209.7L286.5,210.2L285.9,217.2L285.3,224.2L284.7,231.1L284.1,238.1L283.5,245.2L282.9,252.2L281.8,265.2L276.2,264.7L270.5,264.1L264.9,263.6L259.3,263.0L253.7,262.4L248.1,261.7L243.1,261.1L238.2,260.5L233.3,259.8L228.3,259.1L223.4,258.4L218.5,257.7L213.6,256.9L212.4,264.2L210.6,261.1L209.6,260.1L208.2,262.4L204.7,262.1L200.4,261.0L195.1,262.7L193.3,261.3L191.8,256.1L189.7,253.6L190.5,252.2L188.3,245.5L187.3,242.7L183.4,244.9L181.3,243.4L183.6,239.0L184.2,233.5L186.3,229.0L183.7,228.5L181.4,223.1L178.8,219.1L175.6,216.0L175.5,214.2L174.0,207.8L175.5,201.0Z"/>
<path d="M212.4,264.2L213.6,256.9L218.5,257.7L223.4,258.4L228.3,259.1L233.3,259.8L238.2,260.5L243.1,261.1L248.1,261.7L253.7,262.4L259.3,263.0L264.9,263.6L270.5,264.1L276.2,264.7L281.8,265.2L281.2,272.1L280.6,279.0L280.0,285.9L279.4,292.8L278.8,299.8L278.2,306.7L277.6,313.7L277.0,320.6L270.7,320.1L264.3,319.5L258.0,318.9L251.6,318.2L246.4,317.6L241.1,317.0L235.8,316.3L230.5,315.6L225.3,314.9L220.1,314.2L215.0,313.5L209.8,312.7L204.7,311.9L205.8,305.0L206.9,298.1L208.3,289.6L209.7,281.1L211.0,272.7Z"/>
<path d="M176.7,292.9L182.7,294.0L188.8,295.1L194.8,296.2L200.9,297.2L206.9,298.1L205.8,305.0L204.7,311.9L209.8,312.7L215.0,313.5L220.1,314.2L225.3,314.9L224.3,321.9L223.4,328.8L222.4,335.7L221.4,342.6L220.5,349.6L219.5,356.5L218.5,363.4L217.5,370.3L210.9,369.4L204.2,368.4L197.5,367.4L190.9,366.3L185.4,365.4L179.8,364.5L174.3,363.5L168.8,362.5L163.3,361.5L164.6,354.6L166.0,347.8L167.3,340.9L168.6,334.0L170.0,327.2L171.3,320.3L172.7,313.5L174.0,306.6L175.4,299.7Z"/>
<path d="M225.3,314.9L230.5,315.6L235.8,316.3L241.1,317.0L246.4,317.6L251.6,318.2L258.0,318.9L264.3,319.5L270.7,320.1L277.0,320.6L282.2,321.1L287.4,321.5L292.6,321.8L297.8,322.2L297.3,329.1L296.9,336.1L296.4,343.1L296.0,350.1L295.6,357.0L295.1,364.0L294.7,371.0L294.3,378.0L283.7,377.2L278.3,376.8L272.8,376.4L267.3,375.9L261.8,375.4L256.3,374.9L250.9,374.3L245.3,373.7L239.7,373.1L234.2,372.5L228.6,371.8L223.1,371.1L217.5,370.3L218.5,363.4L219.5,356.5L220.5,349.6L221.4,342.6L222.4,335.7L223.4,328.8L224.3,321.9Z"/>
<path d="M163.3,361.5L168.8,362.5L174.3,363.5L179.8,364.5L185.4,365.4L190.9,366.3L197.5,367.4L204.2,368.4L210.9,369.4L217.5,370.3L216.6,377.5L215.6,384.6L214.6,391.7L213.6,398.9L212.6,406.0L211.6,413.1L210.6,420.2L209.6,427.3L208.6,434.4L207.6,441.5L206.6,448.6L200.7,447.8L194.8,447.0L188.9,446.1L182.9,445.2L177.1,441.9L171.2,438.6L165.4,435.3L159.7,431.9L153.9,428.5L148.2,425.1L142.6,421.6L144.2,418.7L147.5,415.3L146.2,410.1L148.8,407.8L149.9,403.0L152.9,400.0L155.2,398.3L152.6,395.7L151.4,389.8L151.5,387.7L152.6,385.8L152.9,379.4L153.2,373.1L157.6,372.9L161.1,372.5Z"/>
<path d="M217.5,370.3L223.1,371.1L228.6,371.8L234.2,372.5L239.7,373.1L245.3,373.7L250.9,374.3L256.3,374.9L261.8,375.4L267.3,375.9L272.8,376.4L278.3,376.8L283.7,377.2L282.8,384.2L282.2,391.1L281.7,398.1L281.1,405.1L280.6,412.0L280.0,419.0L279.5,425.9L278.9,432.9L278.4,439.8L277.8,446.8L271.9,446.3L265.9,445.8L260.0,445.3L254.0,444.8L248.1,444.2L242.2,443.6L236.2,442.9L236.9,446.1L230.4,445.3L223.8,444.6L217.3,443.7L216.5,449.9L206.6,448.6L207.6,441.5L208.6,434.4L209.6,427.3L210.6,420.2L211.6,413.1L212.6,406.0L213.6,398.9L214.6,391.7L215.6,384.6L216.6,377.5Z"/>
<path d="M286.5,210.2L291.2,210.6L295.9,211.0L300.5,211.3L305.2,211.6L309.9,211.9L314.6,212.1L319.2,212.4L323.8,212.6L328.4,212.7L333.1,212.9L338.5,213.1L344.0,213.2L349.4,213.3L350.2,220.1L350.9,228.0L352.7,233.9L353.1,242.4L355.0,250.5L355.3,255.4L349.9,255.4L344.4,255.3L339.0,255.2L333.5,255.0L328.1,254.9L322.6,254.7L317.2,254.4L312.3,254.2L307.4,253.9L302.5,253.6L297.6,253.3L292.7,252.9L287.8,252.6L282.9,252.2L283.5,245.2L284.1,238.1L284.7,231.1L285.3,224.2L285.9,217.2Z"/>
<path d="M282.9,252.2L287.8,252.6L292.7,252.9L297.6,253.3L302.5,253.6L307.4,253.9L312.3,254.2L317.2,254.4L322.6,254.7L328.1,254.9L333.5,255.0L339.0,255.2L344.4,255.3L349.9,255.4L355.3,255.4L352.5,259.7L354.9,262.9L356.3,264.3L356.3,272.6L356.3,281.0L356.2,289.3L354.7,292.1L355.5,295.6L355.1,299.7L356.1,303.4L353.6,301.8L351.1,300.0L347.6,298.0L344.5,298.2L340.9,299.3L337.4,297.4L335.4,295.9L330.4,295.8L325.3,295.6L320.3,295.4L315.2,295.2L310.2,294.9L305.0,294.7L299.9,294.4L294.8,294.0L289.7,293.7L284.5,293.3L279.4,292.8L280.0,285.9L280.6,279.0L281.2,272.1L281.8,265.2Z"/>
<path d="M279.4,292.8L284.5,293.3L289.7,293.7L294.8,294.0L299.9,294.4L305.0,294.7L310.2,294.9L315.2,295.2L320.3,295.4L325.3,295.6L330.4,295.8L335.4,295.9L337.4,297.4L340.9,299.3L344.5,298.2L347.6,298.0L351.1,300.0L353.6,301.8L356.1,303.4L357.1,307.4L358.2,310.2L359.7,314.4L359.9,317.2L361.4,320.5L362.0,324.2L362.3,328.6L363.1,330.0L364.4,332.5L366.8,337.4L368.0,338.1L362.4,338.1L356.8,338.1L351.2,338.1L345.5,338.0L339.9,337.9L334.3,337.8L329.0,337.6L323.6,337.4L318.3,337.2L312.9,337.0L307.6,336.7L302.2,336.4L296.9,336.1L297.3,329.1L297.8,322.2L292.6,321.8L287.4,321.5L282.2,321.1L277.0,320.6L277.6,313.7L278.2,306.7L278.8,299.8Z"/>
<path d="M296.9,336.1L302.2,336.4L307.6,336.7L312.9,337.0L318.3,337.2L323.6,337.4L329.0,337.6L334.3,337.8L339.9,337.9L345.5,338.0L351.2,338.1L356.8,338.1L362.4,338.1L368.0,338.1L371.3,339.5L372.4,341.6L370.3,344.2L372.4,347.6L375.6,350.5L375.6,357.8L375.7,365.2L375.8,372.6L375.9,380.0L369.8,380.0L363.7,380.1L357.6,380.1L351.5,380.0L345.4,379.9L339.3,379.8L333.2,379.7L327.6,379.5L322.1,379.3L316.5,379.1L310.9,378.9L305.4,378.6L299.8,378.3L294.3,378.0L294.7,371.0L295.1,364.0L295.6,357.0L296.0,350.1L296.4,343.1Z"/>
<path d="M283.7,377.2L294.3,378.0L299.8,378.3L305.4,378.6L310.9,378.9L316.5,379.1L322.1,379.3L327.6,379.5L333.2,379.7L339.3,379.8L345.4,379.9L351.5,380.0L357.6,380.1L363.7,380.1L369.8,380.0L375.9,380.0L376.0,386.9L377.2,394.6L378.3,402.3L378.3,410.5L378.2,418.7L378.2,426.8L375.0,426.1L372.2,423.7L368.7,423.6L365.3,422.9L360.7,424.1L356.7,426.1L353.8,424.3L351.5,423.7L349.2,423.3L346.9,425.4L344.0,424.2L341.8,422.1L338.3,423.4L336.7,419.9L333.8,419.8L331.0,419.5L327.0,418.6L324.2,418.3L322.0,416.0L318.6,415.6L315.2,413.2L315.6,404.2L316.0,395.1L316.4,386.1L310.8,385.9L305.2,385.6L299.6,385.3L294.0,384.9L288.4,384.6L282.8,384.2Z"/>
<path d="M282.8,384.2L288.4,384.6L294.0,384.9L299.6,385.3L305.2,385.6L310.8,385.9L316.4,386.1L316.0,395.1L315.6,404.2L315.2,413.2L318.6,415.6L322.0,416.0L324.2,418.3L327.0,418.6L331.0,419.5L333.8,419.8L336.7,419.9L338.3,423.4L341.8,422.1L344.0,424.2L346.9,425.4L349.2,423.3L351.5,423.7L353.8,424.3L356.7,426.1L360.7,424.1L365.3,422.9L368.7,423.6L372.2,423.7L375.0,426.1L378.2,426.8L381.4,427.8L383.3,428.0L383.4,435.7L383.5,442.6L383.7,449.6L386.4,455.1L389.1,460.6L389.8,463.4L388.2,468.9L388.3,473.1L387.1,477.3L386.8,481.5L380.0,483.7L375.8,486.5L374.0,481.7L372.8,485.8L369.2,492.4L360.7,497.6L355.7,500.4L350.2,504.5L347.0,508.6L344.5,514.8L343.5,521.6L345.6,528.5L346.1,533.2L341.7,534.2L332.9,531.4L325.2,527.1L321.1,524.5L319.8,519.7L317.2,511.3L312.5,504.9L307.8,499.9L305.6,494.3L303.7,488.6L300.6,484.9L295.5,478.9L290.7,478.2L284.8,476.7L280.0,478.5L277.6,483.6L274.2,488.2L271.8,487.8L268.3,485.7L266.0,483.8L261.4,480.9L257.5,477.1L256.2,471.4L253.3,463.5L248.9,459.9L243.1,452.5L239.3,449.5L236.9,446.1L236.2,442.9L242.2,443.6L248.1,444.2L254.0,444.8L260.0,445.3L265.9,445.8L271.9,446.3L277.8,446.8L278.4,439.8L278.9,432.9L279.5,425.9L280.0,419.0L280.6,412.0L281.1,405.1L281.7,398.1L282.2,391.1Z"/>
<path d="M349.4,213.3L354.2,213.3L359.0,213.3L363.8,213.3L368.6,213.3L368.6,208.1L371.3,208.9L372.8,215.3L375.6,217.3L381.2,219.3L384.9,218.5L389.1,218.1L393.4,220.7L398.1,222.4L403.8,225.1L409.4,224.1L414.1,224.1L417.9,225.3L421.7,225.0L414.4,228.6L408.9,232.7L405.3,236.0L401.7,239.6L398.0,243.2L399.0,244.2L396.3,244.8L396.6,252.8L394.6,254.3L391.8,256.2L391.1,260.1L393.4,262.6L392.3,267.3L392.3,271.4L395.3,274.0L399.9,276.3L404.0,280.7L408.2,284.0L408.7,288.1L403.1,288.4L397.6,288.6L392.0,288.8L386.4,289.0L380.8,289.1L374.7,289.2L368.5,289.3L362.4,289.3L356.2,289.3L356.3,281.0L356.3,272.6L356.3,264.3L354.9,262.9L352.5,259.7L355.3,255.4L355.0,250.5L353.1,242.4L352.7,233.9L350.9,228.0L350.2,220.1Z"/>
<path d="M356.2,289.3L362.4,289.3L368.5,289.3L374.7,289.2L380.8,289.1L386.4,289.0L392.0,288.8L397.6,288.6L403.1,288.4L408.7,288.1L409.4,293.7L410.4,298.1L415.1,301.8L415.3,301.7L417.7,304.0L420.5,307.0L420.5,310.7L419.2,312.4L416.5,315.6L411.9,317.0L411.6,320.1L413.3,323.5L411.8,325.5L409.4,328.6L408.8,331.7L405.4,328.6L399.2,329.0L393.1,329.4L386.9,329.7L381.0,329.8L375.0,329.9L369.1,330.0L363.1,330.0L362.3,328.6L362.0,324.2L361.4,320.5L359.9,317.2L359.7,314.4L358.2,310.2L357.1,307.4L356.1,303.4L355.1,299.7L355.5,295.6L354.7,292.1Z"/>
<path d="M363.1,330.0L369.1,330.0L375.0,329.9L381.0,329.8L386.9,329.7L393.1,329.4L399.2,329.0L405.4,328.6L408.8,331.7L408.1,334.2L409.1,338.0L409.9,341.0L413.4,344.5L416.9,347.1L418.5,351.2L420.1,351.0L423.1,351.8L423.3,355.4L421.8,360.8L424.4,364.4L427.8,365.4L431.4,370.0L431.7,373.5L433.8,376.9L436.3,377.7L435.8,382.3L433.8,384.6L432.6,384.7L432.3,387.5L431.3,389.1L430.9,391.8L423.4,392.2L424.6,388.7L425.5,385.1L419.0,385.5L412.5,385.8L406.0,386.1L399.5,386.4L393.6,386.6L387.7,386.7L381.9,386.8L376.0,386.9L375.9,380.0L375.8,372.6L375.7,365.2L375.6,357.8L375.6,350.5L372.4,347.6L370.3,344.2L372.4,341.6L371.3,339.5L368.0,338.1L366.8,337.4L364.4,332.5Z"/>
<path d="M376.0,386.9L381.9,386.8L387.7,386.7L393.6,386.6L399.5,386.4L406.0,386.1L412.5,385.8L419.0,385.5L425.5,385.1L424.6,388.7L423.4,392.2L430.9,391.8L430.5,394.6L428.5,398.2L427.5,404.2L425.1,406.1L422.5,410.5L422.3,413.3L419.0,419.0L416.8,421.3L417.3,424.0L416.6,428.9L416.7,434.5L409.0,434.9L401.3,435.2L395.3,435.4L389.4,435.5L383.4,435.7L383.3,428.0L381.4,427.8L378.2,426.8L378.2,418.7L378.3,410.5L378.3,402.3L377.2,394.6Z"/>
<path d="M383.4,435.7L389.4,435.5L395.3,435.4L401.3,435.2L409.0,434.9L416.7,434.5L418.3,440.0L420.3,443.8L418.2,448.4L415.0,454.7L413.4,459.0L412.7,462.5L420.2,462.2L427.7,461.8L435.2,461.3L434.1,466.3L436.7,470.3L438.4,472.5L435.8,473.8L440.0,474.2L441.4,476.9L437.9,478.5L439.9,481.8L443.8,485.0L444.7,488.4L441.1,489.7L440.3,487.4L436.5,484.8L432.9,486.5L430.0,488.0L424.0,489.0L417.7,485.9L415.1,482.6L410.9,483.4L407.8,482.2L401.8,482.7L394.5,480.3L386.8,481.5L387.1,477.3L388.3,473.1L388.2,468.9L389.8,463.4L389.1,460.6L386.4,455.1L383.7,449.6L383.5,442.6Z"/>
<path d="M425.1,406.1L431.0,405.8L436.9,405.4L442.8,404.9L448.7,404.5L450.0,405.9L449.8,414.3L449.7,422.7L449.5,431.1L449.3,439.4L449.1,447.8L450.0,454.8L450.8,461.9L451.7,468.9L449.9,469.3L445.6,468.9L441.0,470.7L438.4,472.5L436.7,470.3L434.1,466.3L435.2,461.3L427.7,461.8L420.2,462.2L412.7,462.5L413.4,459.0L415.0,454.7L418.2,448.4L420.3,443.8L418.3,440.0L416.7,434.5L416.6,428.9L417.3,424.0L416.8,421.3L419.0,419.0L422.3,413.3L422.5,410.5Z"/>
<path d="M448.7,404.5L454.6,404.0L460.5,403.6L466.3,403.1L472.2,402.6L478.0,402.0L480.0,409.2L482.0,416.4L484.0,423.5L486.1,430.7L489.1,436.1L488.8,441.2L488.3,444.1L489.6,449.5L491.2,456.3L485.0,457.0L478.9,457.6L472.7,458.3L466.6,458.9L460.4,459.4L463.1,465.4L462.3,469.3L456.6,470.4L457.6,468.0L456.1,464.2L455.0,465.4L454.7,469.6L451.7,468.9L450.8,461.9L450.0,454.8L449.1,447.8L449.3,439.4L449.5,431.1L449.7,422.7L449.8,414.3L450.0,405.9Z"/>
<path d="M478.0,402.0L485.2,401.1L492.4,400.2L499.2,399.3L506.0,398.3L503.8,402.9L507.5,405.2L510.1,406.9L513.6,411.4L518.9,416.3L522.1,417.6L528.1,422.7L530.2,428.7L534.2,435.1L537.6,435.6L535.0,440.6L534.1,446.4L533.4,449.3L533.6,454.7L527.4,454.7L527.3,460.6L525.1,458.0L518.7,458.5L512.4,459.0L506.0,459.4L499.7,459.9L493.3,460.3L491.2,456.3L489.6,449.5L488.3,444.1L488.8,441.2L489.1,436.1L486.1,430.7L484.0,423.5L482.0,416.4L480.0,409.2Z"/>
<path d="M462.3,469.3L463.1,465.4L460.4,459.4L466.6,458.9L472.7,458.3L478.9,457.6L485.0,457.0L491.2,456.3L493.3,460.3L499.7,459.9L506.0,459.4L512.4,459.0L518.7,458.5L525.1,458.0L527.3,460.6L527.4,454.7L533.6,454.7L535.1,460.3L537.5,465.5L542.3,474.6L549.3,484.0L549.5,488.8L553.6,494.4L557.2,500.8L559.7,506.7L560.6,519.1L559.3,524.8L557.9,527.8L549.9,530.1L545.3,521.5L539.0,517.9L535.7,513.2L531.8,508.2L527.3,503.3L525.0,500.1L527.4,494.9L524.3,495.4L522.3,494.3L523.4,484.4L521.6,480.4L517.7,479.1L512.8,474.6L509.1,469.5L504.6,467.3L500.7,469.9L493.4,475.6L489.1,475.1L488.2,472.0L484.2,469.2L477.9,466.8L474.3,466.8L466.0,468.4Z"/>
<path d="M506.0,398.3L513.5,394.5L521.0,393.7L528.6,392.9L528.8,394.3L530.1,393.4L532.4,397.0L538.6,396.2L544.8,395.3L552.2,400.7L559.7,406.1L556.3,409.5L554.0,416.3L552.8,419.4L547.2,424.6L542.0,428.9L539.3,433.6L537.6,435.6L534.2,435.1L530.2,428.7L528.1,422.7L522.1,417.6L518.9,416.3L513.6,411.4L510.1,406.9L507.5,405.2L503.8,402.9Z"/>
<path d="M581.9,363.3L576.2,364.5L570.5,365.7L564.8,366.8L559.1,368.0L553.4,369.1L547.6,370.0L541.8,370.9L536.0,371.7L530.2,372.6L524.4,373.4L518.6,374.1L518.5,377.5L515.5,381.5L509.7,384.2L504.6,387.7L500.5,391.0L495.2,394.1L492.2,397.3L492.4,400.2L499.2,399.3L506.0,398.3L513.5,394.5L521.0,393.7L528.6,392.9L528.8,394.3L530.1,393.4L532.4,397.0L538.6,396.2L544.8,395.3L552.2,400.7L559.7,406.1L566.5,404.8L567.7,398.9L573.9,392.0L580.3,391.4L584.8,383.4L589.5,380.2L589.3,375.3L584.8,367.7Z"/>
<path d="M432.6,384.7L440.7,384.1L448.7,383.5L448.5,381.0L454.1,380.6L459.8,380.3L465.4,379.9L471.1,379.6L477.5,379.0L483.9,378.4L490.2,377.7L496.6,377.0L502.1,376.3L507.6,375.6L513.1,374.9L518.6,374.1L518.5,377.5L515.5,381.5L509.7,384.2L504.6,387.7L500.5,391.0L495.2,394.1L492.2,397.3L492.4,400.2L485.2,401.1L478.0,402.0L472.2,402.6L466.3,403.1L460.5,403.6L454.6,404.0L448.7,404.5L442.8,404.9L436.9,405.4L431.0,405.8L425.1,406.1L427.5,404.2L428.5,398.2L430.5,394.6L430.9,391.8L431.3,389.1L432.3,387.5Z"/>
<path d="M436.3,377.7L438.0,374.5L442.0,376.0L443.5,374.8L442.9,371.3L446.2,370.1L446.4,366.8L447.4,365.3L449.2,363.8L452.1,362.5L454.7,364.0L457.4,364.9L460.5,361.6L462.8,362.8L465.6,358.7L468.6,360.8L470.1,360.4L471.4,356.5L474.4,349.7L476.8,350.1L480.0,343.8L483.4,343.4L486.8,347.3L492.1,348.7L497.0,348.8L500.0,346.5L504.9,350.2L505.4,353.7L509.5,359.8L513.4,361.5L506.5,369.4L502.2,374.2L496.6,377.0L490.2,377.7L483.9,378.4L477.5,379.0L471.1,379.6L465.4,379.9L459.8,380.3L454.1,380.6L448.5,381.0L448.7,383.5L440.7,384.1L432.6,384.7L433.8,384.6L435.8,382.3Z"/>
<path d="M399.0,244.2L406.5,241.5L410.3,240.2L409.6,245.1L414.2,245.2L417.3,248.2L422.3,249.3L427.4,250.3L432.3,251.9L437.2,252.6L437.6,254.3L440.7,260.2L443.0,263.5L441.7,265.7L439.7,271.5L442.0,269.2L445.4,262.6L448.6,260.2L447.1,265.3L445.1,270.3L444.5,274.6L443.7,277.4L443.7,282.3L442.7,292.4L444.2,299.9L438.4,300.3L432.6,300.7L426.9,301.1L421.1,301.4L415.3,301.7L415.1,301.8L410.4,298.1L409.4,293.7L408.7,288.1L408.2,284.0L404.0,280.7L399.9,276.3L395.3,274.0L392.3,271.4L392.3,267.3L393.4,262.6L391.1,260.1L391.8,256.2L394.6,254.3L396.6,252.8L396.3,244.8Z"/>
<path d="M415.3,301.7L421.1,301.4L426.9,301.1L432.6,300.7L438.4,300.3L444.2,299.9L445.2,305.2L447.0,308.6L448.0,310.6L447.9,310.6L448.6,318.8L449.4,326.9L450.1,335.1L450.8,343.3L450.4,346.8L451.7,352.6L449.7,356.7L447.9,360.7L447.4,365.3L446.4,366.8L446.2,370.1L442.9,371.3L443.5,374.8L442.0,376.0L438.0,374.5L436.3,377.7L433.8,376.9L431.7,373.5L431.4,370.0L427.8,365.4L424.4,364.4L421.8,360.8L423.3,355.4L423.1,351.8L420.1,351.0L418.5,351.2L416.9,347.1L413.4,344.5L409.9,341.0L409.1,338.0L408.1,334.2L408.8,331.7L409.4,328.6L411.8,325.5L413.3,323.5L411.6,320.1L411.9,317.0L416.5,315.6L419.2,312.4L420.5,310.7L420.5,307.0L417.7,304.0Z"/>
<path d="M448.0,310.6L450.9,311.5L455.1,309.1L460.3,308.6L465.5,308.1L470.6,307.5L475.8,306.9L476.6,314.3L477.5,321.7L478.3,329.1L479.1,336.4L480.0,343.8L476.8,350.1L474.4,349.7L471.4,356.5L470.1,360.4L468.6,360.8L465.6,358.7L462.8,362.8L460.5,361.6L457.4,364.9L454.7,364.0L452.1,362.5L449.2,363.8L447.4,365.3L447.9,360.7L449.7,356.7L451.7,352.6L450.4,346.8L450.8,343.3L450.1,335.1L449.4,326.9L448.6,318.8L447.9,310.6Z"/>
<path d="M475.8,306.9L475.9,307.7L482.8,306.7L489.7,305.6L494.5,306.8L497.8,307.8L504.9,306.8L508.0,306.3L512.5,301.8L516.3,299.4L518.9,297.8L520.5,307.1L522.0,316.3L521.7,319.7L521.2,324.5L520.6,330.5L519.3,331.4L515.0,334.9L514.2,336.9L512.3,338.2L512.7,340.9L508.9,343.6L508.8,347.1L504.9,350.2L500.0,346.5L497.0,348.8L492.1,348.7L486.8,347.3L483.4,343.4L480.0,343.8L479.1,336.4L478.3,329.1L477.5,321.7L476.6,314.3Z"/>
<path d="M455.1,309.1L457.9,304.1L459.9,298.3L460.0,294.5L457.8,288.2L455.5,281.9L455.2,277.0L457.0,270.6L457.9,264.9L461.0,261.1L462.4,260.9L463.5,265.7L464.8,260.0L467.0,257.7L468.3,256.5L467.0,253.9L469.9,251.3L472.6,252.8L476.4,254.4L479.5,255.2L484.0,259.8L485.5,263.1L486.3,269.3L484.3,273.0L481.2,276.2L481.9,280.1L485.5,278.5L487.0,274.8L489.8,273.0L494.2,275.2L496.0,281.3L497.5,286.7L497.6,292.3L494.4,294.9L492.2,297.6L492.1,300.8L489.7,305.6L482.8,306.7L475.9,307.7L475.8,306.9L470.6,307.5L465.5,308.1L460.3,308.6ZM443.0,263.5L445.4,257.8L447.5,254.1L450.4,253.1L452.6,255.7L453.2,252.2L455.0,250.6L462.0,247.8L467.9,248.5L469.8,250.1L473.7,248.2L477.5,247.8L481.8,246.8L480.1,245.3L475.1,244.1L472.3,241.0L470.0,242.0L465.7,238.0L461.1,239.8L456.3,240.4L450.5,244.5L447.0,243.4L443.1,243.4L439.9,239.5L436.0,239.1L432.8,241.1L434.4,236.5L436.9,232.2L438.2,231.1L433.6,232.4L430.5,235.2L427.9,238.4L424.7,240.4L420.0,241.7L414.2,245.2L417.3,248.2L422.3,249.3L427.4,250.3L432.3,251.9L437.2,252.6L437.6,254.3L440.7,260.2ZM424.6,226.9L430.4,222.1L430.9,223.0L425.2,227.5Z"/>
<path d="M504.9,350.2L508.8,347.1L508.9,343.6L512.7,340.9L512.3,338.2L514.2,336.9L515.0,334.9L519.3,331.4L520.6,330.5L521.2,324.5L521.7,319.7L522.0,316.3L524.1,329.0L529.5,328.1L535.0,327.2L536.1,334.3L539.6,329.9L542.7,326.8L546.5,326.5L548.6,325.0L552.3,325.7L553.3,328.0L554.4,329.3L553.7,332.0L547.4,328.6L547.6,332.3L543.7,339.1L540.0,344.7L535.9,343.2L534.0,351.0L531.5,355.7L531.7,358.8L529.8,360.5L525.9,362.5L522.1,364.4L518.7,365.5L513.4,361.5L509.5,359.8L505.4,353.7Z"/>
<path d="M513.4,361.5L518.7,365.5L522.1,364.4L525.9,362.5L529.8,360.5L531.7,358.8L531.5,355.7L534.0,351.0L535.9,343.2L540.0,344.7L543.7,339.1L547.6,332.3L547.4,328.6L553.7,332.0L554.4,329.3L557.3,331.9L560.2,332.7L562.7,333.7L563.1,336.4L561.3,341.1L564.8,341.8L569.4,343.0L573.2,345.1L574.2,349.9L574.3,355.6L575.9,358.1L579.5,358.8L581.9,363.3L576.2,364.5L570.5,365.7L564.8,366.8L559.1,368.0L553.4,369.1L547.6,370.0L541.8,370.9L536.0,371.7L530.2,372.6L524.4,373.4L518.6,374.1L513.1,374.9L507.6,375.6L502.1,376.3L496.6,377.0L502.2,374.2L506.5,369.4ZM577.4,344.2L578.1,349.8L578.2,354.1L579.3,355.5L580.9,349.9L582.5,344.6L584.1,341.6L580.1,343.7Z"/>
<path d="M535.0,327.2L541.9,325.9L548.7,324.7L555.6,323.4L561.5,322.2L567.4,321.0L573.4,319.8L575.5,328.4L577.6,337.0L584.9,335.4L584.1,341.6L580.1,343.7L577.4,344.2L573.2,345.1L569.4,343.0L564.8,341.8L561.3,341.1L563.1,336.4L562.7,333.7L560.2,332.7L557.3,331.9L554.4,329.3L553.3,328.0L552.3,325.7L548.6,325.0L546.5,326.5L542.7,326.8L539.6,329.9L536.1,334.3Z"/>
<path d="M573.4,319.8L575.0,317.9L577.2,317.8L576.2,320.9L576.3,323.0L579.4,328.1L583.5,330.7L584.9,335.4L577.6,337.0L575.5,328.4Z"/>
<path d="M525.9,292.6L526.6,296.3L532.3,295.3L538.0,294.3L543.7,293.2L549.4,292.1L554.8,291.1L560.2,290.0L565.5,288.9L570.9,287.7L574.4,289.8L575.2,292.5L579.5,295.0L578.1,298.3L576.5,301.2L576.6,305.8L578.8,308.2L582.6,310.9L579.6,315.8L577.2,317.8L575.0,317.9L573.4,319.8L567.4,321.0L561.5,322.2L555.6,323.4L548.7,324.7L541.9,325.9L535.0,327.2L529.5,328.1L524.1,329.0L522.0,316.3L520.5,307.1L518.9,297.8L523.0,294.8Z"/>
<path d="M579.5,295.0L588.8,298.0L588.4,302.4L586.8,305.6L589.5,305.5L590.1,310.6L590.7,315.5L588.9,321.5L584.7,328.6L580.9,324.9L576.5,320.8L577.2,317.8L579.6,315.8L582.6,310.9L578.8,308.2L576.6,305.8L576.5,301.2L578.1,298.3Z"/>
<path d="M525.9,292.6L531.9,285.5L533.1,282.7L530.7,277.9L535.8,275.3L545.0,275.0L552.8,273.0L555.3,270.1L558.0,268.4L557.0,263.6L554.9,261.2L559.3,255.3L561.4,251.3L566.3,246.3L568.0,245.6L574.5,244.1L581.1,242.6L582.3,249.4L583.6,256.3L585.6,261.1L586.9,261.9L589.3,272.8L589.3,282.8L591.3,293.1L592.3,294.2L590.2,296.3L591.3,297.4L590.4,300.2L589.1,301.5L588.7,302.3L588.8,298.0L579.5,295.0L575.2,292.5L574.4,289.8L570.9,287.7L565.5,288.9L560.2,290.0L554.8,291.1L549.4,292.1L543.7,293.2L538.0,294.3L532.3,295.3L526.6,296.3ZM588.7,303.8L591.6,303.1L597.0,301.1L603.5,297.1L609.0,292.1L604.9,294.1L603.4,292.3L599.0,296.0L593.1,298.4L590.4,300.5L588.7,303.8Z"/>
<path d="M589.3,282.8L596.4,281.4L601.4,280.3L606.4,279.1L608.6,287.4L608.2,288.7L603.5,290.6L598.0,292.2L595.3,294.3L591.3,297.4L590.2,296.3L592.3,294.2L591.3,293.1Z"/>
<path d="M606.4,279.1L610.5,278.0L611.2,280.3L613.6,282.2L615.0,284.3L613.4,285.5L611.9,283.7L611.9,287.2L608.2,288.7L608.6,287.4Z"/>
<path d="M589.3,272.8L597.4,271.1L603.1,269.9L608.9,268.6L609.2,268.0L611.2,265.6L613.0,265.1L615.9,267.5L613.7,270.9L613.3,273.2L616.4,273.8L618.5,276.9L620.2,278.9L622.3,279.0L624.5,277.4L621.5,274.3L623.0,273.9L625.0,275.1L626.1,279.2L622.7,280.4L619.6,282.7L618.3,279.8L616.6,283.6L615.0,284.3L613.6,282.2L611.2,280.3L610.5,278.0L606.4,279.1L601.4,280.3L596.4,281.4L589.3,282.8Z"/>
<path d="M581.1,242.6L587.0,241.1L592.8,239.6L598.7,238.1L598.5,241.9L599.6,244.1L598.2,247.2L596.0,248.6L596.3,251.0L596.0,255.4L595.6,257.6L595.6,261.9L596.2,266.1L596.0,269.5L597.4,271.1L589.3,272.8L586.9,261.9L585.6,261.1L583.6,256.3L582.3,249.4Z"/>
<path d="M598.7,238.1L598.9,235.0L601.6,233.1L605.0,243.7L607.2,251.1L609.5,258.4L611.8,260.7L613.4,262.1L613.0,265.1L611.2,265.6L609.2,268.0L608.9,268.6L603.1,269.9L597.4,271.1L596.0,269.5L596.2,266.1L595.6,261.9L595.6,257.6L596.0,255.4L596.3,251.0L596.0,248.6L598.2,247.2L599.6,244.1L598.5,241.9Z"/>
<path d="M601.6,233.1L604.0,233.2L603.9,231.1L606.4,225.4L606.0,219.8L606.5,211.7L610.7,199.7L612.4,199.6L614.8,202.5L619.5,198.6L625.2,201.0L627.7,208.7L630.1,216.5L630.9,219.4L634.5,219.5L636.8,225.3L640.7,226.3L642.4,228.4L639.9,232.0L637.9,233.7L636.5,236.0L634.2,235.2L633.7,238.6L631.3,237.5L630.7,240.9L628.6,238.9L626.4,238.5L625.9,242.0L625.6,244.5L623.6,246.6L622.2,248.7L620.1,250.5L617.9,250.0L616.1,253.0L615.1,256.9L614.0,258.6L613.4,262.1L611.8,260.7L609.5,258.4L607.2,251.1L605.0,243.7Z"/>
<path d="M148.2,466.2L154.2,463.0L159.1,460.6L166.4,460.1L171.2,462.7L177.7,464.6L188.0,468.2L188.0,507.7L191.6,510.1L195.6,514.2L198.9,511.7L203.7,516.6L208.6,522.3L213.8,527.7L214.3,530.4L209.9,533.2L205.0,529.9L199.8,524.4L195.1,519.5L190.7,515.0L187.2,511.4L182.6,508.2L178.6,506.9L176.1,508.8L173.7,507.2L171.2,508.8L168.3,509.5L166.7,506.9L168.0,504.9L165.6,505.6L163.9,508.2L161.5,512.6L158.2,515.8L154.2,519.1L148.5,521.5L142.0,523.4L136.3,524.7L130.6,525.6L130.6,524.4L137.1,521.5L143.6,519.1L148.5,515.8L152.6,512.1L148.5,510.9L144.4,508.8L142.8,506.1L141.2,503.6L138.7,501.2L139.6,498.7L138.7,495.5L141.2,491.4L146.1,489.0L150.9,486.6L152.6,483.3L148.5,484.9L144.4,484.4L146.1,481.7L142.3,480.1L142.0,476.8L146.9,475.7L151.4,476.8L152.6,474.4L149.3,471.1ZM131.4,482.2L133.5,482.8L135.8,485.4L134.2,486.1ZM133.5,499.7L136.8,499.2L137.1,501.0L134.2,501.3ZM123.3,493.1L124.4,493.1L124.4,494.2L123.3,494.2ZM157.4,518.2L162.3,515.5L163.4,516.9L158.6,519.9Z"/><path d="M235.9,514.9L237.7,513.8L240.0,514.4L240.3,516.2L238.6,517.2L236.4,516.6ZM248.6,519.1L250.4,518.2L252.8,520.6L252.1,521.9L249.9,521.4ZM256.5,521.9L260.9,522.2L260.9,523.0L256.7,522.7ZM258.7,524.7L260.0,524.5L260.2,525.6L258.9,525.7ZM262.2,524.9L263.9,523.8L266.8,524.9L267.0,526.7L264.8,527.3L263.5,526.2ZM268.3,529.7L272.7,531.1L277.5,535.9L274.0,538.5L270.5,541.1L268.3,540.2L267.9,535.9L267.0,533.7Z"/>
<path d="M84.0,385.9L88.4,387.3L88.0,388.7L84.3,387.2ZM90.2,387.2L94.0,388.5L93.7,389.6L89.8,388.6ZM102.6,398.8L105.4,401.3L105.2,402.0L102.4,399.6ZM101.2,404.9L103.3,408.4L103.2,408.7L101.0,405.5ZM91.0,398.8L92.6,400.1L92.2,400.2L90.9,399.3Z"/><path d="M558.1,529.2L555.4,532.4L554.7,532.1L557.4,528.9ZM552.5,534.5L548.3,536.5L548.2,536.0L552.4,534.0ZM546.4,537.2L542.2,539.3L542.1,538.6L546.3,536.6Z"/>
<path d="M577.4,344.2L577.2,340.7L573.1,339.4L571.0,334.8L571.2,330.5L572.1,324.6L570.6,322.8M570.6,322.8L568.2,326.8L568.1,331.2L569.7,336.5L571.1,340.5L573.2,345.1"/>
</g>
<g stroke="#222" stroke-width="0.7" fill="none">
<path d="M594.3,221.5L600.1,250.4"/>
<path d="M585.3,235.5L586.0,240.0"/>
<path d="M624.5,293.1L608.6,281.8"/>
<path d="M613.4,305.3L598.1,286.8"/>
<path d="M605.0,330.3L588.7,316.6"/>
<path d="M599.3,348.6L582.4,332.4"/>
<path d="M600.7,367.0L562.6,333.8"/>
</g>
<g opacity="0.999" font-family="'Liberation Serif','DejaVu Serif',serif" font-size="12.9" fill="#0a0a0a" text-anchor="middle" stroke="#0a0a0a" stroke-width="0.3">
<text transform="translate(131.6,213.3) scale(1,1)">52</text>
<text transform="translate(118.3,257.7) scale(1,1)">81</text>
<text transform="translate(177.3,272.8) scale(1,1)">54</text>
<text transform="translate(230.9,237.1) scale(1,1)">158</text>
<text transform="translate(242.2,295.4) scale(1,1)">110</text>
<text transform="translate(318.1,240.1) scale(1,1)">163</text>
<text transform="translate(318.6,281.8) scale(1,1)">158</text>
<text transform="translate(321.1,322.5) scale(1,1)">279</text>
<text transform="translate(385.9,315.5) scale(1,1)">133</text>
<text transform="translate(419.4,277.8) scale(1,1)">124</text>
<text transform="translate(474.9,294.9) scale(1,1)">166</text>
<text transform="translate(565.9,281.1) scale(1,1)">63</text>
<text transform="translate(548.6,313.7) scale(1,1)">63</text>
<text transform="translate(617.4,234.1) scale(1,1)">77</text>
<text transform="translate(588.8,215.5) scale(1,1)">-8</text>
<text transform="translate(578.0,231.6) scale(1,1)">87</text>
<text transform="translate(632.0,301.2) scale(1,1)">40</text>
<text transform="translate(622.7,318.0) scale(1,1)">114</text>
<text transform="translate(613.2,334.5) scale(1,1)">34</text>
<text transform="translate(612.4,352.6) scale(1,1)">198</text>
<text transform="translate(609.9,371.7) scale(1,1)">53</text>
<text transform="translate(498.8,331.5) scale(1,1)">29</text>
<text transform="translate(521.0,350.8) scale(1,1)">47</text>
<text transform="translate(545.8,362.6) scale(1,1)">59</text>
<text transform="translate(545.8,390.5) scale(1,1)">267</text>
<text transform="translate(532.3,416.2) scale(1,1)">64</text>
<text transform="translate(505.9,438.0) scale(1,1)">147</text>
<text transform="translate(431.2,341.3) scale(1,1)">58</text>
<text transform="translate(462.6,341.3) scale(1,1)">53</text>
<text transform="translate(398.3,366.7) scale(1,1)">104</text>
<text transform="translate(467.6,397.3) scale(1,1)">69</text>
<text transform="translate(400.3,415.4) scale(1,1)">247</text>
<text transform="translate(433.5,443.8) scale(1,1)">133</text>
<text transform="translate(465.6,440.5) scale(1,1)">42</text>
<text transform="translate(255.8,352.6) scale(1,1)">-36</text>
<text transform="translate(334.4,365.4) scale(1,1)">136</text>
<text transform="translate(343.2,406.9) scale(1,1)">53</text>
<text transform="translate(245.7,416.7) scale(1,1)">137</text>
<text transform="translate(193.9,341.3) scale(1,1)">44</text>
<text transform="translate(101.5,356.4) scale(1,1)">18</text>
<text transform="translate(183.1,410.4) scale(1,1)">115</text>
<text transform="translate(320.1,463.8) scale(1,1)">77</text>
<text transform="translate(402.2,472.6) scale(1,1)">108</text>
<text transform="translate(532.8,489.2) scale(1,1)">71</text>
<text transform="translate(166.8,495.6) scale(1,1)">117</text>
</g>
<g><rect x="648.2" y="312.6" width="96" height="155" fill="#fff" filter="url(#ls)"/><g opacity="0.999" font-family="'Liberation Sans',sans-serif" font-size="14.5" fill="#111"><rect x="654.6" y="319.5" width="18.8" height="18.2" fill="#bfe3f7"/><text x="678" y="330.6">&lt; -0.02</text><rect x="654.6" y="349.1" width="18.8" height="18.2" fill="#fdd4c8"/><text x="678" y="361.4">-0.02 - 50</text><rect x="654.6" y="378.8" width="18.8" height="18.2" fill="#f4a090"/><text x="678" y="391.7">50 - 100</text><rect x="654.6" y="408.4" width="18.8" height="18.2" fill="#ee6b52"/><text x="678" y="422.2">100 - 200</text><rect x="654.6" y="438.1" width="18.8" height="18.2" fill="#de1f38"/><text x="678" y="452.7">≥ 200</text></g></g>
<g opacity="0.999"><g font-family="'Liberation Sans',sans-serif" font-weight="bold" font-size="34.2" fill="#fff" stroke="#fff" stroke-width="0.7" stroke-linejoin="round" ><text x="66.6" y="80.0" textLength="55.5" lengthAdjust="spacingAndGlyphs">ACA</text><text x="128.7" y="80.0" textLength="91.7" lengthAdjust="spacingAndGlyphs">Bronze</text><text x="228.5" y="80.0" textLength="134.1" lengthAdjust="spacingAndGlyphs">Premiums</text><text x="370.9" y="80.0" textLength="34.3" lengthAdjust="spacingAndGlyphs">vs.</text><text x="415.3" y="80.0" textLength="110.7" lengthAdjust="spacingAndGlyphs">Pre-ACA</text><text x="535.5" y="80.0" textLength="194.1" lengthAdjust="spacingAndGlyphs">Healthcare.gov</text></g><g font-family="'Liberation Sans',sans-serif" font-weight="bold" font-size="23.6" fill="#0c0c0c" stroke="#0c0c0c" stroke-width="0.55" stroke-linejoin="round" ><text x="83.6" y="128.7" textLength="74.2" lengthAdjust="spacingAndGlyphs">27-year</text><text x="164.0" y="128.7" textLength="34.9" lengthAdjust="spacingAndGlyphs">Old</text><text x="204.4" y="128.7" textLength="45.8" lengthAdjust="spacingAndGlyphs">Man,</text><text x="255.0" y="128.7" textLength="84.6" lengthAdjust="spacingAndGlyphs">Adjusted</text><text x="346.4" y="128.7" textLength="26.0" lengthAdjust="spacingAndGlyphs">for</text><text x="380.6" y="128.7" textLength="119.7" lengthAdjust="spacingAndGlyphs">Pre-Existing</text><text x="507.6" y="128.7" textLength="92.4" lengthAdjust="spacingAndGlyphs">Condition</text><text x="606.6" y="128.7" textLength="103.8" lengthAdjust="spacingAndGlyphs">Conditions</text></g><g font-family="'Liberation Sans',sans-serif" font-weight="bold" font-size="23.6" fill="#0c0c0c" stroke="#0c0c0c" stroke-width="0.55" stroke-linejoin="round" ><text x="270.6" y="159.7" textLength="82.4" lengthAdjust="spacingAndGlyphs">(Percent</text><text x="359.2" y="159.7" textLength="83.9" lengthAdjust="spacingAndGlyphs">Increase</text><text x="448.6" y="159.7" textLength="17.8" lengthAdjust="spacingAndGlyphs">in</text><text x="473.3" y="159.7" textLength="55.2" lengthAdjust="spacingAndGlyphs">Price)</text></g><text x="53.6" y="584" font-family="'Liberation Sans',sans-serif" font-style="italic" font-size="17.2" fill="#111" textLength="213.5" lengthAdjust="spacingAndGlyphs">Source: Manhattan Institute</text><g font-family="'Liberation Serif',serif" fill="#111" stroke="#111" stroke-width="0.45"><text x="448" y="584.6" font-size="16.4" textLength="56.5" lengthAdjust="spacingAndGlyphs">WWW.</text><text x="506.6" y="584.6" font-size="20.3" textLength="188" lengthAdjust="spacingAndGlyphs">DAILYRECKONING</text><text x="695.3" y="584.6" font-size="16.4" textLength="46.8" lengthAdjust="spacingAndGlyphs">.COM</text></g></g>
</svg>
</body></html>
